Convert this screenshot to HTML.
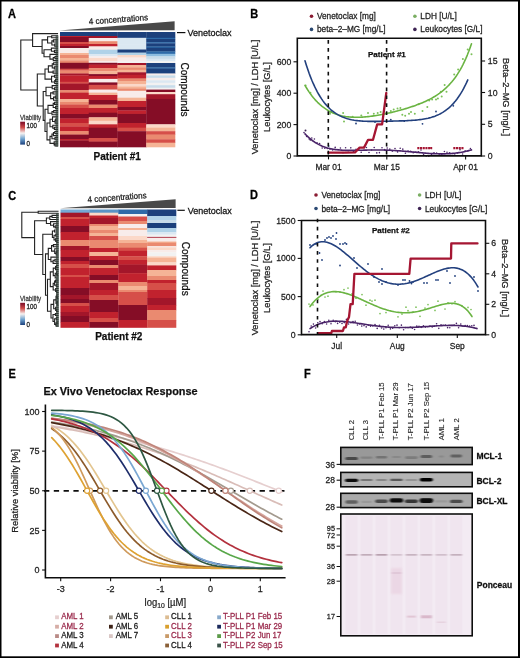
<!DOCTYPE html>
<html><head><meta charset="utf-8"><style>
html,body{margin:0;padding:0;background:#fff;}
svg{display:block;}
text{font-family:"Liberation Sans", sans-serif;}
</style></head><body>
<svg width="520" height="658" viewBox="0 0 520 658">
<defs>
<linearGradient id="cbar" x1="0" y1="0" x2="0" y2="1">
<stop offset="0" stop-color="#7a0a26"/>
<stop offset="0.25" stop-color="#cf4a48"/>
<stop offset="0.5" stop-color="#f7f2f0"/>
<stop offset="0.75" stop-color="#6fa3cf"/>
<stop offset="1" stop-color="#1c3f7c"/>
</linearGradient>
<filter id="soft" x="0" y="0" width="100%" height="100%"><feGaussianBlur stdDeviation="0.3"/></filter>
</defs>
<g filter="url(#soft)">
<rect x="0" y="0" width="520" height="658" fill="#000" />
<rect x="1.5" y="1.5" width="516.5" height="654.8" fill="#fff" />
<text x="0" y="0" font-size="11" text-anchor="start" font-weight="bold" fill="#000" stroke="#000" stroke-width="0.25" transform="translate(8 17.9) scale(1 1.08)" >A</text>
<text x="0" y="0" font-size="11" text-anchor="start" font-weight="bold" fill="#000" stroke="#000" stroke-width="0.25" transform="translate(250.3 17.5) scale(1 1.08)" >B</text>
<text x="0" y="0" font-size="11" text-anchor="start" font-weight="bold" fill="#000" stroke="#000" stroke-width="0.25" transform="translate(8.3 199.5) scale(1 1.08)" >C</text>
<text x="0" y="0" font-size="11" text-anchor="start" font-weight="bold" fill="#000" stroke="#000" stroke-width="0.25" transform="translate(250 199.1) scale(1 1.08)" >D</text>
<text x="0" y="0" font-size="11" text-anchor="start" font-weight="bold" fill="#000" stroke="#000" stroke-width="0.25" transform="translate(8.6 378.3) scale(1 1.08)" >E</text>
<text x="0" y="0" font-size="11" text-anchor="start" font-weight="bold" fill="#000" stroke="#000" stroke-width="0.25" transform="translate(304 377.7) scale(1 1.08)" >F</text>
<rect x="60" y="32" width="29.05" height="4.3" fill="#1b3f7c" />
<rect x="60" y="36" width="29.05" height="1.3" fill="#c1242f" />
<rect x="60" y="37" width="29.05" height="5.3" fill="#850c27" />
<rect x="60" y="42" width="29.05" height="2.3" fill="#d6504a" />
<rect x="60" y="44" width="29.05" height="2.3" fill="#c1242f" />
<rect x="60" y="46" width="29.05" height="2.3" fill="#850c27" />
<rect x="60" y="48" width="29.05" height="5.3" fill="#f8ecea" />
<rect x="60" y="53" width="29.05" height="2.3" fill="#f5b496" />
<rect x="60" y="55" width="29.05" height="3.3" fill="#ea8a6f" />
<rect x="60" y="58" width="29.05" height="2.7" fill="#f5b496" />
<rect x="60" y="60.4" width="29.05" height="2.7" fill="#ea8a6f" />
<rect x="60" y="62.8" width="29.05" height="6.2" fill="#850c27" />
<rect x="60" y="68.7" width="29.05" height="2.1" fill="#d6504a" />
<rect x="60" y="70.5" width="29.05" height="3.3" fill="#ea8a6f" />
<rect x="60" y="73.5" width="29.05" height="2.1" fill="#a3132a" />
<rect x="60" y="75.3" width="29.05" height="6.8" fill="#c1242f" />
<rect x="60" y="81.8" width="29.05" height="2.1" fill="#d6504a" />
<rect x="60" y="83.6" width="29.05" height="6.9" fill="#a3132a" />
<rect x="60" y="90.2" width="29.05" height="2.7" fill="#ea8a6f" />
<rect x="60" y="92.6" width="29.05" height="6.7" fill="#c1242f" />
<rect x="60" y="99" width="29.05" height="3.3" fill="#f5b496" />
<rect x="60" y="102" width="29.05" height="2.9" fill="#ea8a6f" />
<rect x="60" y="104.6" width="29.05" height="3.7" fill="#d6504a" />
<rect x="60" y="108" width="29.05" height="6.3" fill="#c1242f" />
<rect x="60" y="114" width="29.05" height="4.8" fill="#850c27" />
<rect x="60" y="118.5" width="29.05" height="4.8" fill="#c1242f" />
<rect x="60" y="123" width="29.05" height="3.8" fill="#d6504a" />
<rect x="60" y="126.5" width="29.05" height="4.8" fill="#c1242f" />
<rect x="60" y="131" width="29.05" height="3.9" fill="#ea8a6f" />
<rect x="60" y="134.6" width="29.05" height="4.7" fill="#850c27" />
<rect x="60" y="139" width="29.05" height="1.8" fill="#c1242f" />
<rect x="60" y="140.5" width="29.05" height="6.8" fill="#850c27" />
<rect x="88.75" y="32" width="29.05" height="4.3" fill="#1b3f7c" />
<rect x="88.75" y="36" width="29.05" height="2.3" fill="#a3132a" />
<rect x="88.75" y="38" width="29.05" height="3.5" fill="#f8ecea" />
<rect x="88.75" y="41.2" width="29.05" height="3.1" fill="#ea8a6f" />
<rect x="88.75" y="44" width="29.05" height="2.7" fill="#c1242f" />
<rect x="88.75" y="46.4" width="29.05" height="3.6" fill="#f8ecea" />
<rect x="88.75" y="49.7" width="29.05" height="4.6" fill="#b0d2e8" />
<rect x="88.75" y="54" width="29.05" height="2.6" fill="#dbe8f2" />
<rect x="88.75" y="56.3" width="29.05" height="2" fill="#f8ecea" />
<rect x="88.75" y="58" width="29.05" height="3.3" fill="#fbd8c8" />
<rect x="88.75" y="61" width="29.05" height="2.1" fill="#f8ecea" />
<rect x="88.75" y="62.8" width="29.05" height="2.1" fill="#850c27" />
<rect x="88.75" y="64.6" width="29.05" height="3.8" fill="#c1242f" />
<rect x="88.75" y="68.1" width="29.05" height="3.3" fill="#ea8a6f" />
<rect x="88.75" y="71.1" width="29.05" height="3.3" fill="#f5b496" />
<rect x="88.75" y="74.1" width="29.05" height="2.1" fill="#850c27" />
<rect x="88.75" y="75.9" width="29.05" height="3.3" fill="#c1242f" />
<rect x="88.75" y="78.9" width="29.05" height="3.8" fill="#f8ecea" />
<rect x="88.75" y="82.4" width="29.05" height="2.7" fill="#850c27" />
<rect x="88.75" y="84.8" width="29.05" height="5.1" fill="#d6504a" />
<rect x="88.75" y="89.6" width="29.05" height="3.3" fill="#f8ecea" />
<rect x="88.75" y="92.6" width="29.05" height="2.7" fill="#f5b496" />
<rect x="88.75" y="95" width="29.05" height="5.3" fill="#c1242f" />
<rect x="88.75" y="100" width="29.05" height="4.9" fill="#850c27" />
<rect x="88.75" y="104.6" width="29.05" height="3.7" fill="#ea8a6f" />
<rect x="88.75" y="108" width="29.05" height="5" fill="#c1242f" />
<rect x="88.75" y="112.7" width="29.05" height="4.9" fill="#850c27" />
<rect x="88.75" y="117.3" width="29.05" height="3.8" fill="#f5b496" />
<rect x="88.75" y="120.8" width="29.05" height="3.8" fill="#fbd8c8" />
<rect x="88.75" y="124.3" width="29.05" height="3.7" fill="#c1242f" />
<rect x="88.75" y="127.7" width="29.05" height="10.6" fill="#850c27" />
<rect x="88.75" y="138" width="29.05" height="3.9" fill="#d6504a" />
<rect x="88.75" y="141.6" width="29.05" height="5.7" fill="#850c27" />
<rect x="117.5" y="32" width="29.05" height="6.1" fill="#1b3f7c" />
<rect x="117.5" y="37.8" width="29.05" height="7.1" fill="#dbe8f2" />
<rect x="117.5" y="44.6" width="29.05" height="5.2" fill="#dbe8f2" />
<rect x="117.5" y="49.5" width="29.05" height="3.4" fill="#1b3f7c" />
<rect x="117.5" y="52.6" width="29.05" height="2.7" fill="#b0d2e8" />
<rect x="117.5" y="55" width="29.05" height="2.8" fill="#fbd8c8" />
<rect x="117.5" y="57.5" width="29.05" height="4" fill="#f8ecea" />
<rect x="117.5" y="61.2" width="29.05" height="2.1" fill="#f2f2f2" />
<rect x="117.5" y="63" width="29.05" height="2.3" fill="#a3132a" />
<rect x="117.5" y="65" width="29.05" height="2.7" fill="#f5b496" />
<rect x="117.5" y="67.4" width="29.05" height="2.7" fill="#ea8a6f" />
<rect x="117.5" y="69.8" width="29.05" height="2.8" fill="#f5b496" />
<rect x="117.5" y="72.3" width="29.05" height="2.8" fill="#a3132a" />
<rect x="117.5" y="74.8" width="29.05" height="4" fill="#c1242f" />
<rect x="117.5" y="78.5" width="29.05" height="2.8" fill="#ea8a6f" />
<rect x="117.5" y="81" width="29.05" height="3.3" fill="#f5b496" />
<rect x="117.5" y="84" width="29.05" height="2.8" fill="#fbd8c8" />
<rect x="117.5" y="86.5" width="29.05" height="2.3" fill="#f5b496" />
<rect x="117.5" y="88.5" width="29.05" height="2.6" fill="#ea8a6f" />
<rect x="117.5" y="90.8" width="29.05" height="7.2" fill="#f8ecea" />
<rect x="117.5" y="97.7" width="29.05" height="3.6" fill="#f5b496" />
<rect x="117.5" y="101" width="29.05" height="6.3" fill="#c1242f" />
<rect x="117.5" y="107" width="29.05" height="3.7" fill="#850c27" />
<rect x="117.5" y="110.4" width="29.05" height="3.8" fill="#c1242f" />
<rect x="117.5" y="113.9" width="29.05" height="9.4" fill="#850c27" />
<rect x="117.5" y="123" width="29.05" height="5" fill="#c1242f" />
<rect x="117.5" y="127.7" width="29.05" height="3.8" fill="#d6504a" />
<rect x="117.5" y="131.2" width="29.05" height="16.1" fill="#850c27" />
<rect x="146.25" y="32" width="29.05" height="6.1" fill="#1b3f7c" />
<rect x="146.25" y="37.8" width="29.05" height="1.5" fill="#2f6aa8" />
<rect x="146.25" y="39" width="29.05" height="3.5" fill="#1b3f7c" />
<rect x="146.25" y="42.2" width="29.05" height="1.5" fill="#2f6aa8" />
<rect x="146.25" y="43.4" width="29.05" height="3.4" fill="#1b3f7c" />
<rect x="146.25" y="46.5" width="29.05" height="1.5" fill="#2f6aa8" />
<rect x="146.25" y="47.7" width="29.05" height="4" fill="#1b3f7c" />
<rect x="146.25" y="51.4" width="29.05" height="2.7" fill="#2f6aa8" />
<rect x="146.25" y="53.8" width="29.05" height="2.8" fill="#8dbde0" />
<rect x="146.25" y="56.3" width="29.05" height="2.8" fill="#c8dcea" />
<rect x="146.25" y="58.8" width="29.05" height="2.7" fill="#dbe8f2" />
<rect x="146.25" y="61.2" width="29.05" height="2.1" fill="#f2f2f2" />
<rect x="146.25" y="63" width="29.05" height="4.7" fill="#1b3f7c" />
<rect x="146.25" y="67.4" width="29.05" height="1.5" fill="#2f6aa8" />
<rect x="146.25" y="68.6" width="29.05" height="5.2" fill="#1b3f7c" />
<rect x="146.25" y="73.5" width="29.05" height="2.2" fill="#f8ecea" />
<rect x="146.25" y="75.4" width="29.05" height="2.7" fill="#c8dcea" />
<rect x="146.25" y="77.8" width="29.05" height="2.8" fill="#f8ecea" />
<rect x="146.25" y="80.3" width="29.05" height="2.8" fill="#dbe8f2" />
<rect x="146.25" y="82.8" width="29.05" height="2.7" fill="#f2f2f2" />
<rect x="146.25" y="85.2" width="29.05" height="2.8" fill="#c8dcea" />
<rect x="146.25" y="87.7" width="29.05" height="2.2" fill="#f2f2f2" />
<rect x="146.25" y="89.6" width="29.05" height="2.7" fill="#850c27" />
<rect x="146.25" y="92" width="29.05" height="2.5" fill="#fbd8c8" />
<rect x="146.25" y="94.2" width="29.05" height="5" fill="#a3132a" />
<rect x="146.25" y="98.9" width="29.05" height="25.7" fill="#850c27" />
<rect x="146.25" y="124.3" width="29.05" height="3.7" fill="#fbd8c8" />
<rect x="146.25" y="127.7" width="29.05" height="3.8" fill="#f5b496" />
<rect x="146.25" y="131.2" width="29.05" height="3.7" fill="#d6504a" />
<rect x="146.25" y="134.6" width="29.05" height="5" fill="#ea8a6f" />
<rect x="146.25" y="139.3" width="29.05" height="3.7" fill="#d6504a" />
<rect x="146.25" y="142.7" width="29.05" height="4.6" fill="#f5b496" />
<rect x="60.5" y="209.5" width="29.2" height="3.5" fill="#74a9d6" />
<rect x="60.5" y="212.7" width="29.2" height="4.6" fill="#a3132a" />
<rect x="60.5" y="217" width="29.2" height="2.3" fill="#d6504a" />
<rect x="60.5" y="219" width="29.2" height="7.3" fill="#c1242f" />
<rect x="60.5" y="226" width="29.2" height="6.3" fill="#850c27" />
<rect x="60.5" y="232" width="29.2" height="8.3" fill="#c1242f" />
<rect x="60.5" y="240" width="29.2" height="6.3" fill="#ea8a6f" />
<rect x="60.5" y="246" width="29.2" height="4.3" fill="#a3132a" />
<rect x="60.5" y="250" width="29.2" height="7.3" fill="#c1242f" />
<rect x="60.5" y="257" width="29.2" height="4.3" fill="#850c27" />
<rect x="60.5" y="261" width="29.2" height="3.3" fill="#c1242f" />
<rect x="60.5" y="264" width="29.2" height="4.3" fill="#d6504a" />
<rect x="60.5" y="268" width="29.2" height="7.3" fill="#c1242f" />
<rect x="60.5" y="275" width="29.2" height="2.3" fill="#d6504a" />
<rect x="60.5" y="277" width="29.2" height="11.3" fill="#c1242f" />
<rect x="60.5" y="288" width="29.2" height="7.3" fill="#850c27" />
<rect x="60.5" y="295" width="29.2" height="4.3" fill="#a3132a" />
<rect x="60.5" y="299" width="29.2" height="4.3" fill="#850c27" />
<rect x="60.5" y="303" width="29.2" height="3.3" fill="#d6504a" />
<rect x="60.5" y="306" width="29.2" height="6.3" fill="#c1242f" />
<rect x="60.5" y="312" width="29.2" height="4.3" fill="#a3132a" />
<rect x="60.5" y="316" width="29.2" height="6.3" fill="#850c27" />
<rect x="60.5" y="322" width="29.2" height="5.8" fill="#c1242f" />
<rect x="89.4" y="209.5" width="29.2" height="3.5" fill="#5a93c6" />
<rect x="89.4" y="212.7" width="29.2" height="3.1" fill="#fbd8c8" />
<rect x="89.4" y="215.5" width="29.2" height="2.8" fill="#c1242f" />
<rect x="89.4" y="218" width="29.2" height="6.3" fill="#a3132a" />
<rect x="89.4" y="224" width="29.2" height="2.3" fill="#ea8a6f" />
<rect x="89.4" y="226" width="29.2" height="4.3" fill="#f5b496" />
<rect x="89.4" y="230" width="29.2" height="3.3" fill="#ea8a6f" />
<rect x="89.4" y="233" width="29.2" height="3.3" fill="#f5b496" />
<rect x="89.4" y="236" width="29.2" height="4.3" fill="#d6504a" />
<rect x="89.4" y="240" width="29.2" height="8.3" fill="#ea8a6f" />
<rect x="89.4" y="248" width="29.2" height="4.3" fill="#c1242f" />
<rect x="89.4" y="252" width="29.2" height="4.3" fill="#f5b496" />
<rect x="89.4" y="256" width="29.2" height="4.3" fill="#c1242f" />
<rect x="89.4" y="260" width="29.2" height="5.3" fill="#850c27" />
<rect x="89.4" y="265" width="29.2" height="3.3" fill="#ea8a6f" />
<rect x="89.4" y="268" width="29.2" height="7.3" fill="#c1242f" />
<rect x="89.4" y="275" width="29.2" height="5.3" fill="#850c27" />
<rect x="89.4" y="280" width="29.2" height="3.3" fill="#ea8a6f" />
<rect x="89.4" y="283" width="29.2" height="7.3" fill="#a3132a" />
<rect x="89.4" y="290" width="29.2" height="5.3" fill="#c1242f" />
<rect x="89.4" y="295" width="29.2" height="5.3" fill="#d6504a" />
<rect x="89.4" y="300" width="29.2" height="12.3" fill="#850c27" />
<rect x="89.4" y="312" width="29.2" height="6.3" fill="#c1242f" />
<rect x="89.4" y="318" width="29.2" height="4.3" fill="#d6504a" />
<rect x="89.4" y="322" width="29.2" height="5.8" fill="#850c27" />
<rect x="118.3" y="209.5" width="29.2" height="4.8" fill="#2f6aa8" />
<rect x="118.3" y="214" width="29.2" height="2.8" fill="#f2f2f2" />
<rect x="118.3" y="216.5" width="29.2" height="4.8" fill="#d6504a" />
<rect x="118.3" y="221" width="29.2" height="3.3" fill="#ea8a6f" />
<rect x="118.3" y="224" width="29.2" height="4.3" fill="#f8ecea" />
<rect x="118.3" y="228" width="29.2" height="2.3" fill="#f5b496" />
<rect x="118.3" y="230" width="29.2" height="6.3" fill="#f8ecea" />
<rect x="118.3" y="236" width="29.2" height="4.3" fill="#fbd8c8" />
<rect x="118.3" y="240" width="29.2" height="3.3" fill="#f5b496" />
<rect x="118.3" y="243" width="29.2" height="5" fill="#ea8a6f" />
<rect x="118.3" y="247.7" width="29.2" height="3.4" fill="#d6504a" />
<rect x="118.3" y="250.8" width="29.2" height="5.7" fill="#c1242f" />
<rect x="118.3" y="256.2" width="29.2" height="4.1" fill="#d6504a" />
<rect x="118.3" y="260" width="29.2" height="4.9" fill="#c1242f" />
<rect x="118.3" y="264.6" width="29.2" height="8.8" fill="#a3132a" />
<rect x="118.3" y="273.1" width="29.2" height="9.2" fill="#c1242f" />
<rect x="118.3" y="282" width="29.2" height="4.3" fill="#ea8a6f" />
<rect x="118.3" y="286" width="29.2" height="4.3" fill="#f5b496" />
<rect x="118.3" y="290" width="29.2" height="2.3" fill="#ea8a6f" />
<rect x="118.3" y="292" width="29.2" height="6.3" fill="#d6504a" />
<rect x="118.3" y="298" width="29.2" height="7.3" fill="#d6504a" />
<rect x="118.3" y="305" width="29.2" height="15.3" fill="#850c27" />
<rect x="118.3" y="320" width="29.2" height="7.8" fill="#c1242f" />
<rect x="147.2" y="209.5" width="29.1" height="6.8" fill="#1b3f7c" />
<rect x="147.2" y="216" width="29.1" height="4.3" fill="#b0d2e8" />
<rect x="147.2" y="220" width="29.1" height="3.3" fill="#c8dcea" />
<rect x="147.2" y="223" width="29.1" height="5.3" fill="#1b3f7c" />
<rect x="147.2" y="228" width="29.1" height="4.3" fill="#b0d2e8" />
<rect x="147.2" y="232" width="29.1" height="2.9" fill="#dbe8f2" />
<rect x="147.2" y="234.6" width="29.1" height="2.6" fill="#f2f2f2" />
<rect x="147.2" y="236.9" width="29.1" height="1.1" fill="#a3132a" />
<rect x="147.2" y="237.7" width="29.1" height="4.1" fill="#f8ecea" />
<rect x="147.2" y="241.5" width="29.1" height="1.5" fill="#f5b496" />
<rect x="147.2" y="242.7" width="29.1" height="3.8" fill="#ea8a6f" />
<rect x="147.2" y="246.2" width="29.1" height="1.4" fill="#f8ecea" />
<rect x="147.2" y="247.3" width="29.1" height="3" fill="#fbd8c8" />
<rect x="147.2" y="250" width="29.1" height="2.6" fill="#f8ecea" />
<rect x="147.2" y="252.3" width="29.1" height="4.2" fill="#f2f2f2" />
<rect x="147.2" y="256.2" width="29.1" height="1.8" fill="#fbd8c8" />
<rect x="147.2" y="257.7" width="29.1" height="4.9" fill="#f5b496" />
<rect x="147.2" y="262.3" width="29.1" height="3.4" fill="#fbd8c8" />
<rect x="147.2" y="265.4" width="29.1" height="4.9" fill="#c1242f" />
<rect x="147.2" y="270" width="29.1" height="6.3" fill="#f5b496" />
<rect x="147.2" y="276" width="29.1" height="4.3" fill="#ea8a6f" />
<rect x="147.2" y="280" width="29.1" height="3.3" fill="#c1242f" />
<rect x="147.2" y="283" width="29.1" height="7.3" fill="#d6504a" />
<rect x="147.2" y="290" width="29.1" height="8.3" fill="#c1242f" />
<rect x="147.2" y="298" width="29.1" height="7.3" fill="#a3132a" />
<rect x="147.2" y="305" width="29.1" height="5.3" fill="#c1242f" />
<rect x="147.2" y="310" width="29.1" height="10.3" fill="#ea8a6f" />
<rect x="147.2" y="320" width="29.1" height="7.8" fill="#d6504a" />
<path d="M59,30.6 L174.6,21.2 L174.6,30.2 Z" fill="#4a4a4a"/>
<path d="M60,208.3 L175.6,199.2 L175.6,208 Z" fill="#4a4a4a"/>
<text x="0" y="0" font-size="8.1" text-anchor="middle" font-weight="normal" fill="#222" stroke="#222" stroke-width="0.25" transform="translate(118.6 22.3) rotate(-4.3) scale(1 1.06)" >4 concentrations</text>
<text x="0" y="0" font-size="8.1" text-anchor="middle" font-weight="normal" fill="#222" stroke="#222" stroke-width="0.25" transform="translate(117.3 200.3) rotate(-4.3) scale(1 1.06)" >4 concentrations</text>
<line x1="177" y1="32.6" x2="185.4" y2="32.6" stroke="#111" stroke-width="1.2" />
<text x="0" y="0" font-size="9" text-anchor="start" font-weight="normal" fill="#111" stroke="#111" stroke-width="0.25" transform="translate(187.4 35.8) scale(1 1.06)" >Venetoclax</text>
<line x1="177.4" y1="210.3" x2="184.8" y2="210.3" stroke="#111" stroke-width="1.2" />
<text x="0" y="0" font-size="9" text-anchor="start" font-weight="normal" fill="#111" stroke="#111" stroke-width="0.25" transform="translate(187.7 213.5) scale(1 1.06)" >Venetoclax</text>
<text x="0" y="0" font-size="10" text-anchor="middle" font-weight="normal" fill="#111" stroke="#111" stroke-width="0.25" transform="translate(181.2 89.5) rotate(90) scale(1 1.06)" >Compounds</text>
<text x="0" y="0" font-size="10" text-anchor="middle" font-weight="normal" fill="#111" stroke="#111" stroke-width="0.25" transform="translate(181.8 268.7) rotate(90) scale(1 1.06)" >Compounds</text>
<text x="0" y="0" font-size="10" text-anchor="middle" font-weight="bold" fill="#111" stroke="#111" stroke-width="0.25" transform="translate(117.2 159.5)" >Patient #1</text>
<text x="0" y="0" font-size="10" text-anchor="middle" font-weight="bold" fill="#111" stroke="#111" stroke-width="0.25" transform="translate(118.8 340.2)" >Patient #2</text>
<rect x="20.2" y="121.7" width="4.8" height="22.9" fill="url(#cbar)" />
<text x="0" y="0" font-size="6.2" text-anchor="start" font-weight="normal" fill="#444" stroke="#444" stroke-width="0.25" transform="translate(20 120) scale(1 1.06)" >Viability</text>
<text x="0" y="0" font-size="6.2" text-anchor="start" font-weight="normal" fill="#222" stroke="#222" stroke-width="0.25" transform="translate(26.6 128.3) scale(1 1.06)" >100</text>
<text x="0" y="0" font-size="6.2" text-anchor="start" font-weight="normal" fill="#222" stroke="#222" stroke-width="0.25" transform="translate(26.6 146.1) scale(1 1.06)" >0</text>
<rect x="20.2" y="302.8" width="4.8" height="22.2" fill="url(#cbar)" />
<text x="0" y="0" font-size="6.2" text-anchor="start" font-weight="normal" fill="#444" stroke="#444" stroke-width="0.25" transform="translate(20 301.2) scale(1 1.06)" >Viability</text>
<text x="0" y="0" font-size="6.2" text-anchor="start" font-weight="normal" fill="#222" stroke="#222" stroke-width="0.25" transform="translate(26.6 309.4) scale(1 1.06)" >100</text>
<text x="0" y="0" font-size="6.2" text-anchor="start" font-weight="normal" fill="#222" stroke="#222" stroke-width="0.25" transform="translate(26.6 326.5) scale(1 1.06)" >0</text>
<path d="M51.69,35.68 L51.69,37.76 M51.69,35.68 L57.50,35.68 M51.69,37.76 L57.50,37.76 M53.39,39.84 L53.39,41.93 M53.39,39.84 L57.50,39.84 M53.39,41.93 L57.50,41.93 M54.69,44.01 L54.69,46.09 M54.69,44.01 L57.50,44.01 M54.69,46.09 L57.50,46.09 M51.87,40.89 L51.87,45.05 M51.87,40.89 L53.39,40.89 M51.87,45.05 L54.69,45.05 M47.60,36.72 L47.60,42.97 M47.60,36.72 L51.69,36.72 M47.60,42.97 L51.87,42.97 M54.46,50.25 L54.46,52.33 M54.46,50.25 L57.50,50.25 M54.46,52.33 L57.50,52.33 M51.41,48.17 L51.41,51.29 M51.41,48.17 L57.50,48.17 M51.41,51.29 L54.46,51.29 M55.00,56.50 L55.00,58.58 M55.00,56.50 L57.50,56.50 M55.00,58.58 L57.50,58.58 M53.28,57.54 L53.28,60.66 M53.28,57.54 L55.00,57.54 M53.28,60.66 L57.50,60.66 M49.96,54.41 L49.96,59.10 M49.96,54.41 L57.50,54.41 M49.96,59.10 L53.28,59.10 M44.00,49.73 L44.00,56.76 M44.00,49.73 L51.41,49.73 M44.00,56.76 L49.96,56.76 M42.10,39.84 L42.10,53.24 M42.10,39.84 L47.60,39.84 M42.10,53.24 L44.00,53.24 M32.60,33.60 L32.60,46.54 M32.60,33.60 L57.50,33.60 M32.60,46.54 L42.10,46.54 M53.63,62.74 L53.63,64.82 M53.63,62.74 L57.50,62.74 M53.63,64.82 L57.50,64.82 M54.32,66.90 L54.32,68.99 M54.32,66.90 L57.50,66.90 M54.32,68.99 L57.50,68.99 M52.27,63.78 L52.27,67.94 M52.27,63.78 L53.63,63.78 M52.27,67.94 L54.32,67.94 M53.06,71.07 L53.06,73.15 M53.06,71.07 L57.50,71.07 M53.06,73.15 L57.50,73.15 M48.37,65.86 L48.37,72.11 M48.37,65.86 L52.27,65.86 M48.37,72.11 L53.06,72.11 M54.48,75.23 L54.48,77.31 M54.48,75.23 L57.50,75.23 M54.48,77.31 L57.50,77.31 M55.50,79.39 L55.50,81.47 M55.50,79.39 L57.50,79.39 M55.50,81.47 L57.50,81.47 M54.72,80.43 L54.72,83.56 M54.72,80.43 L55.50,80.43 M54.72,83.56 L57.50,83.56 M51.58,76.27 L51.58,81.99 M51.58,76.27 L54.48,76.27 M51.58,81.99 L54.72,81.99 M45.00,68.99 L45.00,79.13 M45.00,68.99 L48.37,68.99 M45.00,79.13 L51.58,79.13 M54.52,87.72 L54.52,89.80 M54.52,87.72 L57.50,87.72 M54.52,89.80 L57.50,89.80 M52.21,85.64 L52.21,88.76 M52.21,85.64 L57.50,85.64 M52.21,88.76 L54.52,88.76 M53.07,91.88 L53.07,93.96 M53.07,91.88 L57.50,91.88 M53.07,93.96 L57.50,93.96 M55.34,96.04 L55.34,98.13 M55.34,96.04 L57.50,96.04 M55.34,98.13 L57.50,98.13 M53.55,97.09 L53.55,100.21 M53.55,97.09 L55.34,97.09 M53.55,100.21 L57.50,100.21 M50.62,92.92 L50.62,98.65 M50.62,92.92 L53.07,92.92 M50.62,98.65 L53.55,98.65 M46.00,87.20 L46.00,95.78 M46.00,87.20 L52.21,87.20 M46.00,95.78 L50.62,95.78 M54.48,102.29 L54.48,104.37 M54.48,102.29 L57.50,102.29 M54.48,104.37 L57.50,104.37 M55.52,106.45 L55.52,108.53 M55.52,106.45 L57.50,106.45 M55.52,108.53 L57.50,108.53 M53.20,103.33 L53.20,107.49 M53.20,103.33 L54.48,103.33 M53.20,107.49 L55.52,107.49 M53.72,110.61 L53.72,112.70 M53.72,110.61 L57.50,110.61 M53.72,112.70 L57.50,112.70 M52.00,111.66 L52.00,114.78 M52.00,111.66 L53.72,111.66 M52.00,114.78 L57.50,114.78 M48.00,105.41 L48.00,113.22 M48.00,105.41 L53.20,105.41 M48.00,113.22 L52.00,113.22 M55.72,118.94 L55.72,121.02 M55.72,118.94 L57.50,118.94 M55.72,121.02 L57.50,121.02 M55.04,119.98 L55.04,123.10 M55.04,119.98 L55.72,119.98 M55.04,123.10 L57.50,123.10 M52.52,116.86 L52.52,121.54 M52.52,116.86 L57.50,116.86 M52.52,121.54 L55.04,121.54 M54.39,127.27 L54.39,129.35 M54.39,127.27 L57.50,127.27 M54.39,129.35 L57.50,129.35 M52.80,125.19 L52.80,128.31 M52.80,125.19 L57.50,125.19 M52.80,128.31 L54.39,128.31 M50.00,119.20 L50.00,126.75 M50.00,119.20 L52.52,119.20 M50.00,126.75 L52.80,126.75 M54.85,131.43 L54.85,133.51 M54.85,131.43 L57.50,131.43 M54.85,133.51 L57.50,133.51 M53.43,132.47 L53.43,135.59 M53.43,132.47 L54.85,132.47 M53.43,135.59 L57.50,135.59 M54.98,137.67 L54.98,139.76 M54.98,137.67 L57.50,137.67 M54.98,139.76 L57.50,139.76 M51.97,134.03 L51.97,138.71 M51.97,134.03 L53.43,134.03 M51.97,138.71 L54.98,138.71 M55.04,143.92 L55.04,146.00 M55.04,143.92 L57.50,143.92 M55.04,146.00 L57.50,146.00 M54.12,141.84 L54.12,144.96 M54.12,141.84 L57.50,141.84 M54.12,144.96 L55.04,144.96 M50.00,136.37 L50.00,143.40 M50.00,136.37 L51.97,136.37 M50.00,143.40 L54.12,143.40 M47.00,122.97 L47.00,139.89 M47.00,122.97 L50.00,122.97 M47.00,139.89 L50.00,139.89 M45.00,109.31 L45.00,131.43 M45.00,109.31 L48.00,109.31 M45.00,131.43 L47.00,131.43 M43.20,91.49 L43.20,120.37 M43.20,91.49 L46.00,91.49 M43.20,120.37 L45.00,120.37 M37.30,74.06 L37.30,105.93 M37.30,74.06 L45.00,74.06 M37.30,105.93 L43.20,105.93 M20.80,40.07 L20.80,90.00 M20.80,40.07 L32.60,40.07 M20.80,90.00 L37.30,90.00" stroke="#222" stroke-width="1.1" fill="none" stroke-linecap="square"/>
<path d="M38.20,211.20 L38.20,213.29 M38.20,211.20 L58.00,211.20 M38.20,213.29 L58.00,213.29 M52.05,215.37 L52.05,217.46 M52.05,215.37 L58.00,215.37 M52.05,217.46 L58.00,217.46 M49.82,216.42 L49.82,219.55 M49.82,216.42 L52.05,216.42 M49.82,219.55 L58.00,219.55 M55.25,225.81 L55.25,227.90 M55.25,225.81 L58.00,225.81 M55.25,227.90 L58.00,227.90 M53.56,223.72 L53.56,226.85 M53.56,223.72 L58.00,223.72 M53.56,226.85 L55.25,226.85 M50.57,221.64 L50.57,225.29 M50.57,221.64 L58.00,221.64 M50.57,225.29 L53.56,225.29 M46.40,217.98 L46.40,223.46 M46.40,217.98 L49.82,217.98 M46.40,223.46 L50.57,223.46 M54.51,229.99 L54.51,232.07 M54.51,229.99 L58.00,229.99 M54.51,232.07 L58.00,232.07 M55.76,234.16 L55.76,236.25 M55.76,234.16 L58.00,234.16 M55.76,236.25 L58.00,236.25 M56.95,240.42 L56.95,242.51 M56.95,240.42 L58.00,240.42 M56.95,242.51 L58.00,242.51 M55.70,238.33 L55.70,241.47 M55.70,238.33 L58.00,238.33 M55.70,241.47 L56.95,241.47 M54.01,235.20 L54.01,239.90 M54.01,235.20 L55.76,235.20 M54.01,239.90 L55.70,239.90 M52.40,231.03 L52.40,237.55 M52.40,231.03 L54.51,231.03 M52.40,237.55 L54.01,237.55 M53.40,244.60 L53.40,246.68 M53.40,244.60 L58.00,244.60 M53.40,246.68 L58.00,246.68 M56.81,250.86 L56.81,252.95 M56.81,250.86 L58.00,250.86 M56.81,252.95 L58.00,252.95 M56.13,251.90 L56.13,255.03 M56.13,251.90 L56.81,251.90 M56.13,255.03 L58.00,255.03 M54.75,248.77 L54.75,253.47 M54.75,248.77 L58.00,248.77 M54.75,253.47 L56.13,253.47 M51.57,245.64 L51.57,251.12 M51.57,245.64 L53.40,245.64 M51.57,251.12 L54.75,251.12 M54.97,259.21 L54.97,261.29 M54.97,259.21 L58.00,259.21 M54.97,261.29 L58.00,261.29 M53.12,260.25 L53.12,263.38 M53.12,260.25 L54.97,260.25 M53.12,263.38 L58.00,263.38 M50.91,257.12 L50.91,261.82 M50.91,257.12 L58.00,257.12 M50.91,261.82 L53.12,261.82 M48.30,248.38 L48.30,259.47 M48.30,248.38 L51.57,248.38 M48.30,259.47 L50.91,259.47 M56.36,265.47 L56.36,267.56 M56.36,265.47 L58.00,265.47 M56.36,267.56 L58.00,267.56 M55.58,266.51 L55.58,269.64 M55.58,266.51 L56.36,266.51 M55.58,269.64 L58.00,269.64 M57.32,273.82 L57.32,275.91 M57.32,273.82 L58.00,273.82 M57.32,275.91 L58.00,275.91 M56.51,271.73 L56.51,274.86 M56.51,271.73 L58.00,271.73 M56.51,274.86 L57.32,274.86 M55.20,273.30 L55.20,277.99 M55.20,273.30 L56.51,273.30 M55.20,277.99 L58.00,277.99 M53.27,268.08 L53.27,275.64 M53.27,268.08 L55.58,268.08 M53.27,275.64 L55.20,275.64 M55.50,280.08 L55.50,282.17 M55.50,280.08 L58.00,280.08 M55.50,282.17 L58.00,282.17 M56.24,284.25 L56.24,286.34 M56.24,284.25 L58.00,284.25 M56.24,286.34 L58.00,286.34 M54.61,281.12 L54.61,285.30 M54.61,281.12 L55.50,281.12 M54.61,285.30 L56.24,285.30 M56.73,290.52 L56.73,292.60 M56.73,290.52 L58.00,290.52 M56.73,292.60 L58.00,292.60 M55.66,288.43 L55.66,291.56 M55.66,288.43 L58.00,288.43 M55.66,291.56 L56.73,291.56 M53.19,283.21 L53.19,289.99 M53.19,283.21 L54.61,283.21 M53.19,289.99 L55.66,289.99 M50.30,271.86 L50.30,286.60 M50.30,271.86 L53.27,271.86 M50.30,286.60 L53.19,286.60 M57.40,296.78 L57.40,298.87 M57.40,296.78 L58.00,296.78 M57.40,298.87 L58.00,298.87 M56.90,294.69 L56.90,297.82 M56.90,294.69 L58.00,294.69 M56.90,297.82 L57.40,297.82 M57.40,300.95 L57.40,303.04 M57.40,300.95 L58.00,300.95 M57.40,303.04 L58.00,303.04 M57.09,302.00 L57.09,305.13 M57.09,302.00 L57.40,302.00 M57.09,305.13 L58.00,305.13 M56.00,296.26 L56.00,303.56 M56.00,296.26 L56.90,296.26 M56.00,303.56 L57.09,303.56 M56.56,309.30 L56.56,311.39 M56.56,309.30 L58.00,309.30 M56.56,311.39 L58.00,311.39 M55.64,307.21 L55.64,310.35 M55.64,307.21 L58.00,307.21 M55.64,310.35 L56.56,310.35 M53.71,299.91 L53.71,308.78 M53.71,299.91 L56.00,299.91 M53.71,308.78 L55.64,308.78 M55.40,313.48 L55.40,315.56 M55.40,313.48 L58.00,313.48 M55.40,315.56 L58.00,315.56 M56.35,317.65 L56.35,319.74 M56.35,317.65 L58.00,317.65 M56.35,319.74 L58.00,319.74 M56.99,321.83 L56.99,323.91 M56.99,321.83 L58.00,321.83 M56.99,323.91 L58.00,323.91 M55.92,322.87 L55.92,326.00 M55.92,322.87 L56.99,322.87 M55.92,326.00 L58.00,326.00 M54.62,318.69 L54.62,324.43 M54.62,318.69 L56.35,318.69 M54.62,324.43 L55.92,324.43 M53.00,314.52 L53.00,321.56 M53.00,314.52 L55.40,314.52 M53.00,321.56 L54.62,321.56 M51.00,304.34 L51.00,318.04 M51.00,304.34 L53.71,304.34 M51.00,318.04 L53.00,318.04 M47.50,279.23 L47.50,311.19 M47.50,279.23 L50.30,279.23 M47.50,311.19 L51.00,311.19 M45.50,253.92 L45.50,295.21 M45.50,253.92 L48.30,253.92 M45.50,295.21 L47.50,295.21 M42.80,234.29 L42.80,274.57 M42.80,234.29 L52.40,234.29 M42.80,274.57 L45.50,274.57 M34.60,220.72 L34.60,254.43 M34.60,220.72 L46.40,220.72 M34.60,254.43 L42.80,254.43 M21.80,212.24 L21.80,237.58 M21.80,212.24 L38.20,212.24 M21.80,237.58 L34.60,237.58" stroke="#222" stroke-width="1.1" fill="none" stroke-linecap="square"/>
<rect x="55.6" y="35.5" width="2.8" height="111" fill="#33403a" opacity="0.75"/>
<rect x="56" y="213" width="2.8" height="114" fill="#33403a" opacity="0.75"/>
<circle cx="311.50" cy="16.20" r="1.8" fill="#8a1a32"/>
<text x="0" y="0" font-size="8.3" text-anchor="start" font-weight="normal" fill="#222" stroke="#222" stroke-width="0.25" transform="translate(316.9 19.2) scale(1 1.06)" >Venetoclax [mg]</text>
<circle cx="311.50" cy="29.40" r="1.8" fill="#2b4a72"/>
<text x="0" y="0" font-size="8.3" text-anchor="start" font-weight="normal" fill="#222" stroke="#222" stroke-width="0.25" transform="translate(316.9 32.4) scale(1 1.06)" >beta–2–MG [mg/L]</text>
<circle cx="414.90" cy="16.20" r="1.8" fill="#7aae62"/>
<text x="0" y="0" font-size="8.3" text-anchor="start" font-weight="normal" fill="#222" stroke="#222" stroke-width="0.25" transform="translate(420.3 19.2) scale(1 1.06)" >LDH [U/L]</text>
<circle cx="414.90" cy="29.40" r="1.8" fill="#3c2452"/>
<text x="0" y="0" font-size="8.3" text-anchor="start" font-weight="normal" fill="#222" stroke="#222" stroke-width="0.25" transform="translate(420.3 32.4) scale(1 1.06)" >Leukocytes [G/L]</text>
<circle cx="305.60" cy="85.40" r="1" fill="#7cc05a"/>
<circle cx="310.40" cy="92.70" r="1" fill="#7cc05a"/>
<circle cx="329.60" cy="111.90" r="1" fill="#7cc05a"/>
<circle cx="330.00" cy="113.80" r="1" fill="#7cc05a"/>
<circle cx="343.10" cy="112.90" r="1" fill="#7cc05a"/>
<circle cx="344.00" cy="121.50" r="1" fill="#7cc05a"/>
<circle cx="352.70" cy="116.70" r="1" fill="#7cc05a"/>
<circle cx="361.30" cy="115.40" r="1" fill="#7cc05a"/>
<circle cx="368.00" cy="112.90" r="1" fill="#7cc05a"/>
<circle cx="373.80" cy="113.80" r="1" fill="#7cc05a"/>
<circle cx="377.70" cy="112.90" r="1" fill="#7cc05a"/>
<circle cx="380.60" cy="111.90" r="1" fill="#7cc05a"/>
<circle cx="386.30" cy="112.90" r="1" fill="#7cc05a"/>
<circle cx="390.80" cy="111.00" r="1" fill="#7cc05a"/>
<circle cx="393.70" cy="109.60" r="1" fill="#7cc05a"/>
<circle cx="397.50" cy="108.50" r="1" fill="#7cc05a"/>
<circle cx="400.40" cy="108.10" r="1" fill="#7cc05a"/>
<circle cx="402.30" cy="114.80" r="1" fill="#7cc05a"/>
<circle cx="405.20" cy="115.80" r="1" fill="#7cc05a"/>
<circle cx="409.00" cy="113.80" r="1" fill="#7cc05a"/>
<circle cx="411.00" cy="111.90" r="1" fill="#7cc05a"/>
<circle cx="414.80" cy="113.80" r="1" fill="#7cc05a"/>
<circle cx="418.70" cy="104.20" r="1" fill="#7cc05a"/>
<circle cx="422.50" cy="111.00" r="1" fill="#7cc05a"/>
<circle cx="427.30" cy="107.10" r="1" fill="#7cc05a"/>
<circle cx="429.20" cy="100.40" r="1" fill="#7cc05a"/>
<circle cx="432.10" cy="99.40" r="1" fill="#7cc05a"/>
<circle cx="436.00" cy="99.40" r="1" fill="#7cc05a"/>
<circle cx="437.90" cy="98.50" r="1" fill="#7cc05a"/>
<circle cx="440.80" cy="91.70" r="1" fill="#7cc05a"/>
<circle cx="441.70" cy="96.50" r="1" fill="#7cc05a"/>
<circle cx="444.60" cy="85.00" r="1" fill="#7cc05a"/>
<circle cx="446.50" cy="91.70" r="1" fill="#7cc05a"/>
<circle cx="454.20" cy="74.40" r="1" fill="#7cc05a"/>
<circle cx="458.10" cy="69.60" r="1" fill="#7cc05a"/>
<circle cx="462.90" cy="59.00" r="1" fill="#7cc05a"/>
<circle cx="467.70" cy="49.40" r="1" fill="#7cc05a"/>
<circle cx="471.50" cy="54.20" r="1" fill="#7cc05a"/>
<circle cx="304.00" cy="132.61" r="0.8" fill="#4a2468"/>
<circle cx="306.60" cy="136.47" r="0.8" fill="#4a2468"/>
<circle cx="309.20" cy="138.95" r="0.8" fill="#4a2468"/>
<circle cx="311.80" cy="137.94" r="0.8" fill="#4a2468"/>
<circle cx="314.40" cy="139.01" r="0.8" fill="#4a2468"/>
<circle cx="317.00" cy="142.80" r="0.8" fill="#4a2468"/>
<circle cx="319.60" cy="143.57" r="0.8" fill="#4a2468"/>
<circle cx="322.20" cy="147.96" r="0.8" fill="#4a2468"/>
<circle cx="324.80" cy="148.23" r="0.8" fill="#4a2468"/>
<circle cx="327.40" cy="148.51" r="0.8" fill="#4a2468"/>
<circle cx="330.00" cy="148.92" r="0.8" fill="#4a2468"/>
<circle cx="332.60" cy="150.07" r="0.8" fill="#4a2468"/>
<circle cx="335.20" cy="147.39" r="0.8" fill="#4a2468"/>
<circle cx="337.80" cy="149.48" r="0.8" fill="#4a2468"/>
<circle cx="340.40" cy="148.05" r="0.8" fill="#4a2468"/>
<circle cx="343.00" cy="152.67" r="0.8" fill="#4a2468"/>
<circle cx="345.60" cy="147.69" r="0.8" fill="#4a2468"/>
<circle cx="348.20" cy="152.30" r="0.8" fill="#4a2468"/>
<circle cx="350.80" cy="147.84" r="0.8" fill="#4a2468"/>
<circle cx="353.40" cy="151.49" r="0.8" fill="#4a2468"/>
<circle cx="356.00" cy="149.35" r="0.8" fill="#4a2468"/>
<circle cx="358.60" cy="149.70" r="0.8" fill="#4a2468"/>
<circle cx="361.20" cy="152.26" r="0.8" fill="#4a2468"/>
<circle cx="363.80" cy="147.25" r="0.8" fill="#4a2468"/>
<circle cx="366.40" cy="147.45" r="0.8" fill="#4a2468"/>
<circle cx="369.00" cy="152.52" r="0.8" fill="#4a2468"/>
<circle cx="371.60" cy="150.04" r="0.8" fill="#4a2468"/>
<circle cx="374.20" cy="147.51" r="0.8" fill="#4a2468"/>
<circle cx="376.80" cy="152.88" r="0.8" fill="#4a2468"/>
<circle cx="379.40" cy="152.65" r="0.8" fill="#4a2468"/>
<circle cx="382.00" cy="147.69" r="0.8" fill="#4a2468"/>
<circle cx="384.60" cy="149.61" r="0.8" fill="#4a2468"/>
<circle cx="387.20" cy="147.97" r="0.8" fill="#4a2468"/>
<circle cx="389.80" cy="149.14" r="0.8" fill="#4a2468"/>
<circle cx="392.40" cy="151.12" r="0.8" fill="#4a2468"/>
<circle cx="395.00" cy="148.53" r="0.8" fill="#4a2468"/>
<circle cx="397.60" cy="151.90" r="0.8" fill="#4a2468"/>
<circle cx="400.20" cy="148.22" r="0.8" fill="#4a2468"/>
<circle cx="402.80" cy="149.14" r="0.8" fill="#4a2468"/>
<circle cx="405.40" cy="153.23" r="0.8" fill="#4a2468"/>
<circle cx="408.00" cy="150.97" r="0.8" fill="#4a2468"/>
<circle cx="410.60" cy="151.32" r="0.8" fill="#4a2468"/>
<circle cx="413.20" cy="152.63" r="0.8" fill="#4a2468"/>
<circle cx="415.80" cy="152.16" r="0.8" fill="#4a2468"/>
<circle cx="418.40" cy="151.84" r="0.8" fill="#4a2468"/>
<circle cx="421.00" cy="149.95" r="0.8" fill="#4a2468"/>
<circle cx="423.60" cy="154.35" r="0.8" fill="#4a2468"/>
<circle cx="426.20" cy="156.01" r="0.8" fill="#4a2468"/>
<circle cx="428.80" cy="156.25" r="0.8" fill="#4a2468"/>
<circle cx="431.40" cy="154.53" r="0.8" fill="#4a2468"/>
<circle cx="434.00" cy="152.82" r="0.8" fill="#4a2468"/>
<circle cx="436.60" cy="152.96" r="0.8" fill="#4a2468"/>
<circle cx="439.20" cy="154.99" r="0.8" fill="#4a2468"/>
<circle cx="441.80" cy="154.91" r="0.8" fill="#4a2468"/>
<circle cx="444.40" cy="151.53" r="0.8" fill="#4a2468"/>
<circle cx="447.00" cy="152.18" r="0.8" fill="#4a2468"/>
<circle cx="449.60" cy="152.82" r="0.8" fill="#4a2468"/>
<circle cx="452.20" cy="153.51" r="0.8" fill="#4a2468"/>
<circle cx="454.80" cy="155.05" r="0.8" fill="#4a2468"/>
<circle cx="457.40" cy="152.87" r="0.8" fill="#4a2468"/>
<circle cx="460.00" cy="149.65" r="0.8" fill="#4a2468"/>
<circle cx="462.60" cy="153.96" r="0.8" fill="#4a2468"/>
<circle cx="465.20" cy="151.07" r="0.8" fill="#4a2468"/>
<circle cx="467.80" cy="150.99" r="0.8" fill="#4a2468"/>
<circle cx="470.40" cy="148.51" r="0.8" fill="#4a2468"/>
<circle cx="305.50" cy="130.50" r="1" fill="#3c2452"/>
<circle cx="310.40" cy="139.80" r="1" fill="#3c2452"/>
<circle cx="328.60" cy="146.00" r="0.9" fill="#23407e"/>
<circle cx="390.80" cy="119.60" r="0.9" fill="#23407e"/>
<circle cx="404.20" cy="121.20" r="0.9" fill="#23407e"/>
<circle cx="422.50" cy="123.80" r="0.9" fill="#23407e"/>
<circle cx="436.00" cy="111.50" r="0.9" fill="#23407e"/>
<circle cx="453.30" cy="105.80" r="0.9" fill="#23407e"/>
<circle cx="331.00" cy="111.50" r="0.9" fill="#23407e"/>
<circle cx="356.00" cy="123.50" r="0.9" fill="#23407e"/>
<circle cx="375.00" cy="122.00" r="0.9" fill="#23407e"/>
<path d="M305.00,85.43 L306.40,87.80 L307.80,90.02 L309.20,92.12 L310.60,94.10 L312.00,95.95 L313.39,97.70 L314.79,99.34 L316.19,100.87 L317.59,102.31 L318.99,103.66 L320.39,104.92 L321.79,106.09 L323.19,107.18 L324.59,108.20 L325.99,109.15 L327.39,110.03 L328.79,110.84 L330.18,111.59 L331.58,112.28 L332.98,112.91 L334.38,113.49 L335.78,114.02 L337.18,114.50 L338.58,114.94 L339.98,115.33 L341.38,115.68 L342.78,115.99 L344.18,116.26 L345.58,116.50 L346.97,116.70 L348.37,116.87 L349.77,117.01 L351.17,117.12 L352.57,117.20 L353.97,117.25 L355.37,117.29 L356.77,117.29 L358.17,117.28 L359.57,117.24 L360.97,117.18 L362.37,117.11 L363.76,117.01 L365.16,116.90 L366.56,116.77 L367.96,116.63 L369.36,116.47 L370.76,116.30 L372.16,116.11 L373.56,115.91 L374.96,115.70 L376.36,115.48 L377.76,115.24 L379.16,115.00 L380.55,114.74 L381.95,114.48 L383.35,114.20 L384.75,113.92 L386.15,113.62 L387.55,113.32 L388.95,113.01 L390.35,112.69 L391.75,112.36 L393.15,112.02 L394.55,111.68 L395.95,111.33 L397.34,110.96 L398.74,110.59 L400.14,110.22 L401.54,109.83 L402.94,109.43 L404.34,109.03 L405.74,108.61 L407.14,108.19 L408.54,107.75 L409.94,107.30 L411.34,106.84 L412.74,106.37 L414.13,105.89 L415.53,105.39 L416.93,104.87 L418.33,104.34 L419.73,103.80 L421.13,103.23 L422.53,102.65 L423.93,102.04 L425.33,101.41 L426.73,100.76 L428.13,100.08 L429.53,99.37 L430.92,98.63 L432.32,97.86 L433.72,97.05 L435.12,96.21 L436.52,95.32 L437.92,94.39 L439.32,93.41 L440.72,92.38 L442.12,91.29 L443.52,90.15 L444.92,88.94 L446.32,87.66 L447.71,86.30 L449.11,84.86 L450.51,83.33 L451.91,81.71 L453.31,79.99 L454.71,78.16 L456.11,76.21 L457.51,74.13 L458.91,71.91 L460.31,69.55 L461.71,67.02 L463.11,64.33 L464.50,61.45 L465.90,58.36 L467.30,55.07 L468.70,51.54 L470.10,47.76 L471.50,43.71" stroke="#6bb443" stroke-width="1.6" fill="none" stroke-linejoin="round" stroke-linecap="round" />
<path d="M305.00,60.78 L306.37,65.19 L307.74,69.33 L309.10,73.22 L310.47,76.85 L311.84,80.26 L313.21,83.45 L314.58,86.44 L315.94,89.23 L317.31,91.83 L318.68,94.27 L320.05,96.53 L321.42,98.65 L322.78,100.61 L324.15,102.44 L325.52,104.14 L326.89,105.71 L328.26,107.17 L329.63,108.52 L330.99,109.77 L332.36,110.92 L333.73,111.98 L335.10,112.95 L336.47,113.85 L337.83,114.67 L339.20,115.42 L340.57,116.11 L341.94,116.73 L343.31,117.30 L344.67,117.82 L346.04,118.28 L347.41,118.70 L348.78,119.08 L350.15,119.41 L351.51,119.71 L352.88,119.98 L354.25,120.22 L355.62,120.42 L356.99,120.60 L358.35,120.76 L359.72,120.89 L361.09,121.01 L362.46,121.10 L363.83,121.18 L365.19,121.25 L366.56,121.30 L367.93,121.34 L369.30,121.36 L370.67,121.38 L372.04,121.39 L373.40,121.40 L374.77,121.40 L376.14,121.39 L377.51,121.38 L378.88,121.36 L380.24,121.34 L381.61,121.32 L382.98,121.30 L384.35,121.27 L385.72,121.24 L387.08,121.22 L388.45,121.19 L389.82,121.16 L391.19,121.13 L392.56,121.10 L393.92,121.06 L395.29,121.03 L396.66,121.00 L398.03,120.96 L399.40,120.92 L400.76,120.88 L402.13,120.84 L403.50,120.79 L404.87,120.74 L406.24,120.69 L407.61,120.63 L408.97,120.56 L410.34,120.48 L411.71,120.40 L413.08,120.30 L414.45,120.20 L415.81,120.08 L417.18,119.95 L418.55,119.80 L419.92,119.64 L421.29,119.46 L422.65,119.26 L424.02,119.03 L425.39,118.78 L426.76,118.50 L428.13,118.20 L429.49,117.86 L430.86,117.49 L432.23,117.08 L433.60,116.63 L434.97,116.14 L436.33,115.60 L437.70,115.01 L439.07,114.37 L440.44,113.68 L441.81,112.92 L443.17,112.10 L444.54,111.20 L445.91,110.24 L447.28,109.19 L448.65,108.06 L450.02,106.85 L451.38,105.53 L452.75,104.12 L454.12,102.60 L455.49,100.96 L456.86,99.21 L458.22,97.33 L459.59,95.31 L460.96,93.16 L462.33,90.85 L463.70,88.38 L465.06,85.74 L466.43,82.92 L467.80,79.92" stroke="#23407e" stroke-width="1.6" fill="none" stroke-linejoin="round" stroke-linecap="round" />
<path d="M305.00,133.86 L306.40,135.32 L307.80,136.68 L309.20,137.95 L310.60,139.14 L312.00,140.24 L313.39,141.26 L314.79,142.21 L316.19,143.08 L317.59,143.89 L318.99,144.63 L320.39,145.31 L321.79,145.93 L323.19,146.49 L324.59,147.01 L325.99,147.47 L327.39,147.90 L328.79,148.27 L330.18,148.61 L331.58,148.91 L332.98,149.17 L334.38,149.40 L335.78,149.60 L337.18,149.77 L338.58,149.92 L339.98,150.04 L341.38,150.14 L342.78,150.23 L344.18,150.29 L345.58,150.34 L346.97,150.37 L348.37,150.39 L349.77,150.39 L351.17,150.39 L352.57,150.38 L353.97,150.37 L355.37,150.34 L356.77,150.31 L358.17,150.28 L359.57,150.25 L360.97,150.21 L362.37,150.18 L363.76,150.14 L365.16,150.11 L366.56,150.08 L367.96,150.05 L369.36,150.02 L370.76,150.00 L372.16,149.98 L373.56,149.97 L374.96,149.96 L376.36,149.96 L377.76,149.96 L379.16,149.97 L380.55,149.99 L381.95,150.01 L383.35,150.04 L384.75,150.08 L386.15,150.12 L387.55,150.17 L388.95,150.23 L390.35,150.29 L391.75,150.36 L393.15,150.43 L394.55,150.52 L395.95,150.61 L397.34,150.70 L398.74,150.80 L400.14,150.90 L401.54,151.01 L402.94,151.13 L404.34,151.25 L405.74,151.37 L407.14,151.49 L408.54,151.62 L409.94,151.75 L411.34,151.88 L412.74,152.01 L414.13,152.14 L415.53,152.27 L416.93,152.40 L418.33,152.53 L419.73,152.66 L421.13,152.78 L422.53,152.90 L423.93,153.02 L425.33,153.13 L426.73,153.24 L428.13,153.34 L429.53,153.44 L430.92,153.52 L432.32,153.60 L433.72,153.67 L435.12,153.73 L436.52,153.78 L437.92,153.82 L439.32,153.85 L440.72,153.87 L442.12,153.87 L443.52,153.86 L444.92,153.83 L446.32,153.79 L447.71,153.74 L449.11,153.66 L450.51,153.58 L451.91,153.47 L453.31,153.35 L454.71,153.20 L456.11,153.04 L457.51,152.86 L458.91,152.66 L460.31,152.43 L461.71,152.19 L463.11,151.93 L464.50,151.64 L465.90,151.33 L467.30,151.00 L468.70,150.64 L470.10,150.26 L471.50,149.86" stroke="#4a2468" stroke-width="1.6" fill="none" stroke-linejoin="round" stroke-linecap="round" />
<path d="M328.30,152.70 L345.00,152.70 L355.00,152.40 L359.60,147.60 L364.00,147.60 L368.10,139.80 L373.00,139.80 L377.20,124.40 L382.10,124.40 L386.30,92.80" stroke="#a51432" stroke-width="2.3" fill="none" stroke-linejoin="round" stroke-linecap="round" />
<line x1="417.3" y1="148.1" x2="432.2" y2="148.1" stroke="#a51432" stroke-width="2.2" stroke-dasharray="2.1,0.6"/>
<line x1="453.3" y1="148.1" x2="464" y2="148.1" stroke="#a51432" stroke-width="2.2" stroke-dasharray="2.1,0.6"/>
<circle cx="431" cy="148.1" r="1.0" fill="#a51432"/>
<line x1="328.3" y1="40.1" x2="328.3" y2="155.9" stroke="#111" stroke-width="1.6" stroke-dasharray="3.7,4.2"/>
<line x1="386.6" y1="40.1" x2="386.6" y2="155.9" stroke="#111" stroke-width="1.6" stroke-dasharray="3.7,4.2"/>
<path d="M297.3,38.3 L481.3,38.3 L481.3,155.9 L297.3,155.9 Z" fill="none" stroke="#111" stroke-width="1.6"/>
<line x1="293.5" y1="156" x2="297.3" y2="156" stroke="#111" stroke-width="1.1" />
<text x="0" y="0" font-size="8.7" text-anchor="end" font-weight="normal" fill="#222" stroke="#222" stroke-width="0.25" transform="translate(291.3 159) scale(1 1.06)" >0</text>
<line x1="293.5" y1="124.6" x2="297.3" y2="124.6" stroke="#111" stroke-width="1.1" />
<text x="0" y="0" font-size="8.7" text-anchor="end" font-weight="normal" fill="#222" stroke="#222" stroke-width="0.25" transform="translate(291.3 127.6) scale(1 1.06)" >200</text>
<line x1="293.5" y1="93.2" x2="297.3" y2="93.2" stroke="#111" stroke-width="1.1" />
<text x="0" y="0" font-size="8.7" text-anchor="end" font-weight="normal" fill="#222" stroke="#222" stroke-width="0.25" transform="translate(291.3 96.2) scale(1 1.06)" >400</text>
<line x1="293.5" y1="61.8" x2="297.3" y2="61.8" stroke="#111" stroke-width="1.1" />
<text x="0" y="0" font-size="8.7" text-anchor="end" font-weight="normal" fill="#222" stroke="#222" stroke-width="0.25" transform="translate(291.3 64.8) scale(1 1.06)" >600</text>
<line x1="481.3" y1="156" x2="485.1" y2="156" stroke="#111" stroke-width="1.1" />
<text x="0" y="0" font-size="8.7" text-anchor="start" font-weight="normal" fill="#222" stroke="#222" stroke-width="0.25" transform="translate(487.8 159) scale(1 1.06)" >0</text>
<line x1="481.3" y1="124.3" x2="485.1" y2="124.3" stroke="#111" stroke-width="1.1" />
<text x="0" y="0" font-size="8.7" text-anchor="start" font-weight="normal" fill="#222" stroke="#222" stroke-width="0.25" transform="translate(487.8 127.3) scale(1 1.06)" >5</text>
<line x1="481.3" y1="92.5" x2="485.1" y2="92.5" stroke="#111" stroke-width="1.1" />
<text x="0" y="0" font-size="8.7" text-anchor="start" font-weight="normal" fill="#222" stroke="#222" stroke-width="0.25" transform="translate(487.8 95.5) scale(1 1.06)" >10</text>
<line x1="481.3" y1="61" x2="485.1" y2="61" stroke="#111" stroke-width="1.1" />
<text x="0" y="0" font-size="8.7" text-anchor="start" font-weight="normal" fill="#222" stroke="#222" stroke-width="0.25" transform="translate(487.8 64) scale(1 1.06)" >15</text>
<line x1="328.5" y1="155.9" x2="328.5" y2="159.4" stroke="#111" stroke-width="1.1" />
<text x="0" y="0" font-size="8.4" text-anchor="middle" font-weight="normal" fill="#222" stroke="#222" stroke-width="0.25" transform="translate(328.5 170) scale(1 1.06)" >Mar 01</text>
<line x1="386.8" y1="155.9" x2="386.8" y2="159.4" stroke="#111" stroke-width="1.1" />
<text x="0" y="0" font-size="8.4" text-anchor="middle" font-weight="normal" fill="#222" stroke="#222" stroke-width="0.25" transform="translate(386.8 170) scale(1 1.06)" >Mar 15</text>
<line x1="465.6" y1="155.9" x2="465.6" y2="159.4" stroke="#111" stroke-width="1.1" />
<text x="0" y="0" font-size="8.4" text-anchor="middle" font-weight="normal" fill="#222" stroke="#222" stroke-width="0.25" transform="translate(465.6 170) scale(1 1.06)" >Apr 01</text>
<text x="0" y="0" font-size="8" text-anchor="start" font-weight="bold" fill="#111" stroke="#111" stroke-width="0.25" transform="translate(368 56.6)" >Patient #1</text>
<text x="0" y="0" font-size="9.3" text-anchor="middle" font-weight="normal" fill="#222" stroke="#222" stroke-width="0.25" transform="translate(258.4 97) rotate(-90) scale(1 1.06)" >Venetoclax [mg] / LDH [U/L]</text>
<text x="0" y="0" font-size="9.3" text-anchor="middle" font-weight="normal" fill="#222" stroke="#222" stroke-width="0.25" transform="translate(270.4 97) rotate(-90) scale(1 1.06)" >Leukocytes [G/L]</text>
<text x="0" y="0" font-size="9.3" text-anchor="middle" font-weight="normal" fill="#222" stroke="#222" stroke-width="0.25" transform="translate(503.4 97) rotate(90) scale(1 1.06)" >Beta–2–MG [mg/L]</text>
<circle cx="316.00" cy="195.00" r="1.8" fill="#8a1a32"/>
<text x="0" y="0" font-size="8.3" text-anchor="start" font-weight="normal" fill="#222" stroke="#222" stroke-width="0.25" transform="translate(321.4 198) scale(1 1.06)" >Venetoclax [mg]</text>
<circle cx="316.00" cy="208.50" r="1.8" fill="#2b4a72"/>
<text x="0" y="0" font-size="8.3" text-anchor="start" font-weight="normal" fill="#222" stroke="#222" stroke-width="0.25" transform="translate(321.4 211.5) scale(1 1.06)" >beta–2–MG [mg/L]</text>
<circle cx="419.60" cy="195.00" r="1.8" fill="#7aae62"/>
<text x="0" y="0" font-size="8.3" text-anchor="start" font-weight="normal" fill="#222" stroke="#222" stroke-width="0.25" transform="translate(425 198) scale(1 1.06)" >LDH [U/L]</text>
<circle cx="419.60" cy="208.50" r="1.8" fill="#3c2452"/>
<text x="0" y="0" font-size="8.3" text-anchor="start" font-weight="normal" fill="#222" stroke="#222" stroke-width="0.25" transform="translate(425 211.5) scale(1 1.06)" >Leukocytes [G/L]</text>
<circle cx="310.00" cy="245.00" r="0.9" fill="#23407e"/>
<circle cx="316.00" cy="244.00" r="0.9" fill="#23407e"/>
<circle cx="319.50" cy="253.00" r="0.9" fill="#23407e"/>
<circle cx="322.00" cy="260.00" r="0.9" fill="#23407e"/>
<circle cx="325.00" cy="240.00" r="0.9" fill="#23407e"/>
<circle cx="327.00" cy="238.00" r="0.9" fill="#23407e"/>
<circle cx="329.00" cy="237.00" r="0.9" fill="#23407e"/>
<circle cx="331.00" cy="238.00" r="0.9" fill="#23407e"/>
<circle cx="333.00" cy="236.00" r="0.9" fill="#23407e"/>
<circle cx="336.00" cy="239.00" r="0.9" fill="#23407e"/>
<circle cx="336.50" cy="233.00" r="0.9" fill="#23407e"/>
<circle cx="340.00" cy="244.00" r="0.9" fill="#23407e"/>
<circle cx="343.00" cy="244.00" r="0.9" fill="#23407e"/>
<circle cx="345.00" cy="243.00" r="0.9" fill="#23407e"/>
<circle cx="346.50" cy="244.00" r="0.9" fill="#23407e"/>
<circle cx="340.00" cy="265.50" r="0.9" fill="#23407e"/>
<circle cx="354.00" cy="258.00" r="0.9" fill="#23407e"/>
<circle cx="357.00" cy="268.00" r="0.9" fill="#23407e"/>
<circle cx="368.00" cy="264.00" r="0.9" fill="#23407e"/>
<circle cx="374.00" cy="277.00" r="0.9" fill="#23407e"/>
<circle cx="379.00" cy="282.00" r="0.9" fill="#23407e"/>
<circle cx="382.00" cy="284.00" r="0.9" fill="#23407e"/>
<circle cx="386.00" cy="282.00" r="0.9" fill="#23407e"/>
<circle cx="382.00" cy="269.00" r="0.9" fill="#23407e"/>
<circle cx="398.00" cy="285.00" r="0.9" fill="#23407e"/>
<circle cx="403.00" cy="280.00" r="0.9" fill="#23407e"/>
<circle cx="405.00" cy="280.00" r="0.9" fill="#23407e"/>
<circle cx="409.50" cy="281.00" r="0.9" fill="#23407e"/>
<circle cx="411.50" cy="283.50" r="0.9" fill="#23407e"/>
<circle cx="413.00" cy="282.00" r="0.9" fill="#23407e"/>
<circle cx="424.00" cy="283.00" r="0.9" fill="#23407e"/>
<circle cx="427.00" cy="283.00" r="0.9" fill="#23407e"/>
<circle cx="436.00" cy="280.00" r="0.9" fill="#23407e"/>
<circle cx="438.00" cy="280.00" r="0.9" fill="#23407e"/>
<circle cx="447.00" cy="271.00" r="0.9" fill="#23407e"/>
<circle cx="450.00" cy="283.00" r="0.9" fill="#23407e"/>
<circle cx="455.00" cy="276.00" r="0.9" fill="#23407e"/>
<circle cx="474.00" cy="277.00" r="0.9" fill="#23407e"/>
<circle cx="478.00" cy="291.00" r="0.9" fill="#23407e"/>
<circle cx="309.00" cy="304.03" r="0.85" fill="#7cc05a"/>
<circle cx="313.00" cy="304.97" r="0.85" fill="#7cc05a"/>
<circle cx="318.00" cy="299.34" r="0.85" fill="#7cc05a"/>
<circle cx="321.00" cy="295.30" r="0.85" fill="#7cc05a"/>
<circle cx="323.00" cy="290.99" r="0.85" fill="#7cc05a"/>
<circle cx="325.00" cy="296.98" r="0.85" fill="#7cc05a"/>
<circle cx="328.00" cy="296.15" r="0.85" fill="#7cc05a"/>
<circle cx="336.00" cy="291.76" r="0.85" fill="#7cc05a"/>
<circle cx="340.00" cy="292.08" r="0.85" fill="#7cc05a"/>
<circle cx="344.00" cy="289.69" r="0.85" fill="#7cc05a"/>
<circle cx="348.00" cy="288.07" r="0.85" fill="#7cc05a"/>
<circle cx="352.00" cy="293.92" r="0.85" fill="#7cc05a"/>
<circle cx="356.00" cy="298.13" r="0.85" fill="#7cc05a"/>
<circle cx="362.00" cy="294.60" r="0.85" fill="#7cc05a"/>
<circle cx="366.00" cy="305.14" r="0.85" fill="#7cc05a"/>
<circle cx="370.00" cy="300.22" r="0.85" fill="#7cc05a"/>
<circle cx="372.00" cy="301.12" r="0.85" fill="#7cc05a"/>
<circle cx="375.00" cy="300.13" r="0.85" fill="#7cc05a"/>
<circle cx="380.00" cy="313.60" r="0.85" fill="#7cc05a"/>
<circle cx="386.00" cy="312.55" r="0.85" fill="#7cc05a"/>
<circle cx="398.00" cy="316.81" r="0.85" fill="#7cc05a"/>
<circle cx="402.00" cy="314.05" r="0.85" fill="#7cc05a"/>
<circle cx="406.00" cy="307.15" r="0.85" fill="#7cc05a"/>
<circle cx="408.00" cy="310.62" r="0.85" fill="#7cc05a"/>
<circle cx="413.00" cy="312.19" r="0.85" fill="#7cc05a"/>
<circle cx="416.00" cy="307.15" r="0.85" fill="#7cc05a"/>
<circle cx="420.00" cy="316.36" r="0.85" fill="#7cc05a"/>
<circle cx="425.00" cy="308.07" r="0.85" fill="#7cc05a"/>
<circle cx="428.00" cy="304.62" r="0.85" fill="#7cc05a"/>
<circle cx="435.00" cy="310.38" r="0.85" fill="#7cc05a"/>
<circle cx="438.00" cy="301.15" r="0.85" fill="#7cc05a"/>
<circle cx="445.00" cy="309.02" r="0.85" fill="#7cc05a"/>
<circle cx="448.00" cy="302.86" r="0.85" fill="#7cc05a"/>
<circle cx="452.00" cy="303.86" r="0.85" fill="#7cc05a"/>
<circle cx="455.00" cy="301.62" r="0.85" fill="#7cc05a"/>
<circle cx="462.00" cy="305.88" r="0.85" fill="#7cc05a"/>
<circle cx="468.00" cy="307.41" r="0.85" fill="#7cc05a"/>
<circle cx="471.00" cy="309.48" r="0.85" fill="#7cc05a"/>
<circle cx="309.00" cy="331.76" r="0.8" fill="#4a2468"/>
<circle cx="311.20" cy="326.01" r="0.8" fill="#4a2468"/>
<circle cx="313.40" cy="324.09" r="0.8" fill="#4a2468"/>
<circle cx="315.60" cy="328.03" r="0.8" fill="#4a2468"/>
<circle cx="317.80" cy="322.82" r="0.8" fill="#4a2468"/>
<circle cx="320.00" cy="321.67" r="0.8" fill="#4a2468"/>
<circle cx="322.20" cy="323.75" r="0.8" fill="#4a2468"/>
<circle cx="324.40" cy="321.60" r="0.8" fill="#4a2468"/>
<circle cx="326.60" cy="323.99" r="0.8" fill="#4a2468"/>
<circle cx="328.80" cy="320.23" r="0.8" fill="#4a2468"/>
<circle cx="331.00" cy="323.78" r="0.8" fill="#4a2468"/>
<circle cx="333.20" cy="320.30" r="0.8" fill="#4a2468"/>
<circle cx="335.40" cy="321.70" r="0.8" fill="#4a2468"/>
<circle cx="337.60" cy="323.42" r="0.8" fill="#4a2468"/>
<circle cx="339.80" cy="322.20" r="0.8" fill="#4a2468"/>
<circle cx="342.00" cy="323.56" r="0.8" fill="#4a2468"/>
<circle cx="344.20" cy="322.60" r="0.8" fill="#4a2468"/>
<circle cx="346.40" cy="319.38" r="0.8" fill="#4a2468"/>
<circle cx="348.60" cy="323.95" r="0.8" fill="#4a2468"/>
<circle cx="350.80" cy="322.71" r="0.8" fill="#4a2468"/>
<circle cx="353.00" cy="321.55" r="0.8" fill="#4a2468"/>
<circle cx="355.20" cy="321.23" r="0.8" fill="#4a2468"/>
<circle cx="357.40" cy="324.99" r="0.8" fill="#4a2468"/>
<circle cx="359.60" cy="323.94" r="0.8" fill="#4a2468"/>
<circle cx="361.80" cy="326.12" r="0.8" fill="#4a2468"/>
<circle cx="364.00" cy="325.60" r="0.8" fill="#4a2468"/>
<circle cx="366.20" cy="326.91" r="0.8" fill="#4a2468"/>
<circle cx="368.40" cy="325.19" r="0.8" fill="#4a2468"/>
<circle cx="370.60" cy="326.19" r="0.8" fill="#4a2468"/>
<circle cx="372.80" cy="326.05" r="0.8" fill="#4a2468"/>
<circle cx="375.00" cy="324.50" r="0.8" fill="#4a2468"/>
<circle cx="377.20" cy="328.40" r="0.8" fill="#4a2468"/>
<circle cx="379.40" cy="325.30" r="0.8" fill="#4a2468"/>
<circle cx="381.60" cy="327.98" r="0.8" fill="#4a2468"/>
<circle cx="383.80" cy="329.09" r="0.8" fill="#4a2468"/>
<circle cx="386.00" cy="327.70" r="0.8" fill="#4a2468"/>
<circle cx="388.20" cy="325.22" r="0.8" fill="#4a2468"/>
<circle cx="390.40" cy="328.92" r="0.8" fill="#4a2468"/>
<circle cx="392.60" cy="328.21" r="0.8" fill="#4a2468"/>
<circle cx="394.80" cy="325.80" r="0.8" fill="#4a2468"/>
<circle cx="397.00" cy="325.16" r="0.8" fill="#4a2468"/>
<circle cx="399.20" cy="327.71" r="0.8" fill="#4a2468"/>
<circle cx="401.40" cy="325.14" r="0.8" fill="#4a2468"/>
<circle cx="403.60" cy="329.78" r="0.8" fill="#4a2468"/>
<circle cx="405.80" cy="327.58" r="0.8" fill="#4a2468"/>
<circle cx="408.00" cy="327.60" r="0.8" fill="#4a2468"/>
<circle cx="410.20" cy="326.97" r="0.8" fill="#4a2468"/>
<circle cx="412.40" cy="328.20" r="0.8" fill="#4a2468"/>
<circle cx="414.60" cy="329.43" r="0.8" fill="#4a2468"/>
<circle cx="416.80" cy="326.16" r="0.8" fill="#4a2468"/>
<circle cx="419.00" cy="326.38" r="0.8" fill="#4a2468"/>
<circle cx="421.20" cy="327.33" r="0.8" fill="#4a2468"/>
<circle cx="423.40" cy="325.71" r="0.8" fill="#4a2468"/>
<circle cx="425.60" cy="327.11" r="0.8" fill="#4a2468"/>
<circle cx="427.80" cy="326.69" r="0.8" fill="#4a2468"/>
<circle cx="430.00" cy="325.97" r="0.8" fill="#4a2468"/>
<circle cx="432.20" cy="327.07" r="0.8" fill="#4a2468"/>
<circle cx="434.40" cy="326.17" r="0.8" fill="#4a2468"/>
<circle cx="436.60" cy="323.75" r="0.8" fill="#4a2468"/>
<circle cx="438.80" cy="328.35" r="0.8" fill="#4a2468"/>
<circle cx="441.00" cy="324.90" r="0.8" fill="#4a2468"/>
<circle cx="443.20" cy="325.20" r="0.8" fill="#4a2468"/>
<circle cx="445.40" cy="324.98" r="0.8" fill="#4a2468"/>
<circle cx="447.60" cy="327.66" r="0.8" fill="#4a2468"/>
<circle cx="449.80" cy="327.76" r="0.8" fill="#4a2468"/>
<circle cx="452.00" cy="325.47" r="0.8" fill="#4a2468"/>
<circle cx="454.20" cy="324.93" r="0.8" fill="#4a2468"/>
<circle cx="456.40" cy="323.42" r="0.8" fill="#4a2468"/>
<circle cx="458.60" cy="327.69" r="0.8" fill="#4a2468"/>
<circle cx="460.80" cy="324.08" r="0.8" fill="#4a2468"/>
<circle cx="463.00" cy="326.23" r="0.8" fill="#4a2468"/>
<circle cx="465.20" cy="325.46" r="0.8" fill="#4a2468"/>
<circle cx="467.40" cy="325.65" r="0.8" fill="#4a2468"/>
<circle cx="469.60" cy="326.17" r="0.8" fill="#4a2468"/>
<circle cx="471.80" cy="325.72" r="0.8" fill="#4a2468"/>
<circle cx="474.00" cy="325.40" r="0.8" fill="#4a2468"/>
<circle cx="476.20" cy="328.55" r="0.8" fill="#4a2468"/>
<path d="M310.00,306.59 L311.36,304.73 L312.72,303.02 L314.08,301.46 L315.45,300.04 L316.81,298.75 L318.17,297.59 L319.53,296.54 L320.89,295.62 L322.25,294.80 L323.61,294.09 L324.97,293.48 L326.34,292.96 L327.70,292.53 L329.06,292.19 L330.42,291.93 L331.78,291.75 L333.14,291.63 L334.50,291.59 L335.87,291.61 L337.23,291.69 L338.59,291.82 L339.95,292.01 L341.31,292.25 L342.67,292.54 L344.03,292.86 L345.39,293.23 L346.76,293.63 L348.12,294.07 L349.48,294.54 L350.84,295.03 L352.20,295.55 L353.56,296.09 L354.92,296.65 L356.29,297.23 L357.65,297.82 L359.01,298.42 L360.37,299.03 L361.73,299.65 L363.09,300.27 L364.45,300.90 L365.82,301.53 L367.18,302.15 L368.54,302.77 L369.90,303.39 L371.26,304.00 L372.62,304.60 L373.98,305.19 L375.34,305.77 L376.71,306.33 L378.07,306.88 L379.43,307.41 L380.79,307.92 L382.15,308.42 L383.51,308.89 L384.87,309.34 L386.24,309.76 L387.60,310.16 L388.96,310.54 L390.32,310.88 L391.68,311.20 L393.04,311.49 L394.40,311.76 L395.76,311.99 L397.13,312.19 L398.49,312.36 L399.85,312.50 L401.21,312.61 L402.57,312.69 L403.93,312.73 L405.29,312.74 L406.66,312.72 L408.02,312.67 L409.38,312.59 L410.74,312.48 L412.10,312.33 L413.46,312.16 L414.82,311.96 L416.18,311.72 L417.55,311.47 L418.91,311.18 L420.27,310.88 L421.63,310.55 L422.99,310.20 L424.35,309.83 L425.71,309.44 L427.08,309.04 L428.44,308.63 L429.80,308.21 L431.16,307.78 L432.52,307.35 L433.88,306.92 L435.24,306.49 L436.61,306.07 L437.97,305.66 L439.33,305.26 L440.69,304.89 L442.05,304.54 L443.41,304.21 L444.77,303.93 L446.13,303.68 L447.50,303.48 L448.86,303.34 L450.22,303.25 L451.58,303.23 L452.94,303.28 L454.30,303.41 L455.66,303.63 L457.03,303.94 L458.39,304.37 L459.75,304.90 L461.11,305.56 L462.47,306.35 L463.83,307.29 L465.19,308.38 L466.55,309.64 L467.92,311.07 L469.28,312.69 L470.64,314.51 L472.00,316.55" stroke="#6bb443" stroke-width="1.6" fill="none" stroke-linejoin="round" stroke-linecap="round" />
<path d="M310.00,247.80 L311.41,246.42 L312.82,245.23 L314.24,244.24 L315.65,243.42 L317.06,242.77 L318.47,242.28 L319.88,241.94 L321.29,241.75 L322.71,241.69 L324.12,241.76 L325.53,241.95 L326.94,242.26 L328.35,242.67 L329.76,243.17 L331.18,243.77 L332.59,244.45 L334.00,245.21 L335.41,246.04 L336.82,246.94 L338.24,247.89 L339.65,248.90 L341.06,249.95 L342.47,251.05 L343.88,252.17 L345.29,253.33 L346.71,254.52 L348.12,255.72 L349.53,256.94 L350.94,258.17 L352.35,259.41 L353.76,260.65 L355.18,261.89 L356.59,263.12 L358.00,264.34 L359.41,265.55 L360.82,266.74 L362.24,267.91 L363.65,269.06 L365.06,270.18 L366.47,271.27 L367.88,272.33 L369.29,273.35 L370.71,274.34 L372.12,275.29 L373.53,276.20 L374.94,277.07 L376.35,277.89 L377.76,278.66 L379.18,279.39 L380.59,280.07 L382.00,280.70 L383.41,281.28 L384.82,281.81 L386.24,282.29 L387.65,282.71 L389.06,283.08 L390.47,283.40 L391.88,283.66 L393.29,283.87 L394.71,284.03 L396.12,284.14 L397.53,284.20 L398.94,284.20 L400.35,284.15 L401.76,284.06 L403.18,283.92 L404.59,283.73 L406.00,283.49 L407.41,283.22 L408.82,282.90 L410.24,282.54 L411.65,282.14 L413.06,281.71 L414.47,281.24 L415.88,280.74 L417.29,280.21 L418.71,279.66 L420.12,279.08 L421.53,278.48 L422.94,277.87 L424.35,277.24 L425.76,276.60 L427.18,275.96 L428.59,275.31 L430.00,274.66 L431.41,274.01 L432.82,273.37 L434.24,272.74 L435.65,272.13 L437.06,271.54 L438.47,270.98 L439.88,270.44 L441.29,269.94 L442.71,269.48 L444.12,269.06 L445.53,268.69 L446.94,268.38 L448.35,268.12 L449.76,267.93 L451.18,267.81 L452.59,267.76 L454.00,267.80 L455.41,267.92 L456.82,268.14 L458.24,268.46 L459.65,268.88 L461.06,269.42 L462.47,270.07 L463.88,270.85 L465.29,271.76 L466.71,272.81 L468.12,274.00 L469.53,275.35 L470.94,276.85 L472.35,278.52 L473.76,280.36 L475.18,282.39 L476.59,284.60 L478.00,287.01" stroke="#23407e" stroke-width="1.6" fill="none" stroke-linejoin="round" stroke-linecap="round" />
<path d="M310.00,328.67 L311.40,327.75 L312.81,326.91 L314.21,326.13 L315.61,325.43 L317.02,324.79 L318.42,324.22 L319.82,323.70 L321.23,323.24 L322.63,322.84 L324.03,322.48 L325.44,322.18 L326.84,321.92 L328.24,321.70 L329.65,321.52 L331.05,321.38 L332.45,321.28 L333.86,321.21 L335.26,321.17 L336.66,321.16 L338.07,321.18 L339.47,321.22 L340.87,321.29 L342.28,321.37 L343.68,321.48 L345.08,321.60 L346.49,321.74 L347.89,321.89 L349.29,322.05 L350.70,322.23 L352.10,322.41 L353.50,322.60 L354.91,322.80 L356.31,323.01 L357.71,323.22 L359.12,323.43 L360.52,323.65 L361.92,323.86 L363.33,324.08 L364.73,324.29 L366.13,324.50 L367.54,324.71 L368.94,324.92 L370.34,325.12 L371.75,325.32 L373.15,325.51 L374.55,325.70 L375.96,325.87 L377.36,326.05 L378.76,326.21 L380.17,326.36 L381.57,326.51 L382.97,326.65 L384.38,326.78 L385.78,326.90 L387.18,327.01 L388.59,327.11 L389.99,327.20 L391.39,327.28 L392.80,327.35 L394.20,327.41 L395.61,327.46 L397.01,327.50 L398.41,327.54 L399.82,327.56 L401.22,327.57 L402.62,327.57 L404.03,327.57 L405.43,327.55 L406.83,327.53 L408.24,327.50 L409.64,327.46 L411.04,327.41 L412.45,327.36 L413.85,327.30 L415.25,327.24 L416.66,327.17 L418.06,327.09 L419.46,327.01 L420.87,326.92 L422.27,326.84 L423.67,326.74 L425.08,326.65 L426.48,326.56 L427.88,326.46 L429.29,326.36 L430.69,326.27 L432.09,326.17 L433.50,326.08 L434.90,325.99 L436.30,325.91 L437.71,325.82 L439.11,325.75 L440.51,325.68 L441.92,325.61 L443.32,325.55 L444.72,325.50 L446.13,325.46 L447.53,325.43 L448.93,325.41 L450.34,325.40 L451.74,325.41 L453.14,325.42 L454.55,325.45 L455.95,325.50 L457.35,325.56 L458.76,325.64 L460.16,325.74 L461.56,325.85 L462.97,325.99 L464.37,326.14 L465.77,326.32 L467.18,326.51 L468.58,326.73 L469.98,326.98 L471.39,327.24 L472.79,327.54 L474.19,327.86 L475.60,328.20 L477.00,328.58" stroke="#4a2468" stroke-width="1.6" fill="none" stroke-linejoin="round" stroke-linecap="round" />
<path d="M318.10,333.10 L331.30,333.10 L331.90,331.00 L342.90,331.00 L344.00,327.30 L345.80,327.30 L347.00,321.50 L349.00,317.00 L350.50,304.20 L352.70,304.20 L354.40,273.80 L409.30,273.80 L410.60,258.60 L451.00,258.60 L451.30,243.40 L477.50,243.40" stroke="#a51432" stroke-width="2.3" fill="none" stroke-linejoin="round" stroke-linecap="round" />
<line x1="317.5" y1="218.7" x2="317.5" y2="334.6" stroke="#111" stroke-width="1.6" stroke-dasharray="3.6,4.5"/>
<path d="M301.5,220.5 L485.5,220.5 L485.5,334.6 L301.5,334.6 Z" fill="none" stroke="#111" stroke-width="1.6"/>
<line x1="297.7" y1="334.8" x2="301.5" y2="334.8" stroke="#111" stroke-width="1.1" />
<text x="0" y="0" font-size="8.7" text-anchor="end" font-weight="normal" fill="#222" stroke="#222" stroke-width="0.25" transform="translate(295.5 337.8) scale(1 1.06)" >0</text>
<line x1="297.7" y1="296.6" x2="301.5" y2="296.6" stroke="#111" stroke-width="1.1" />
<text x="0" y="0" font-size="8.7" text-anchor="end" font-weight="normal" fill="#222" stroke="#222" stroke-width="0.25" transform="translate(295.5 299.6) scale(1 1.06)" >500</text>
<line x1="297.7" y1="258.4" x2="301.5" y2="258.4" stroke="#111" stroke-width="1.1" />
<text x="0" y="0" font-size="8.7" text-anchor="end" font-weight="normal" fill="#222" stroke="#222" stroke-width="0.25" transform="translate(295.5 261.4) scale(1 1.06)" >1000</text>
<line x1="297.7" y1="220.5" x2="301.5" y2="220.5" stroke="#111" stroke-width="1.1" />
<text x="0" y="0" font-size="8.7" text-anchor="end" font-weight="normal" fill="#222" stroke="#222" stroke-width="0.25" transform="translate(295.5 223.5) scale(1 1.06)" >1500</text>
<line x1="485.5" y1="334.8" x2="489.3" y2="334.8" stroke="#111" stroke-width="1.1" />
<text x="0" y="0" font-size="8.7" text-anchor="start" font-weight="normal" fill="#222" stroke="#222" stroke-width="0.25" transform="translate(491.3 337.8) scale(1 1.06)" >0</text>
<line x1="485.5" y1="304.3" x2="489.3" y2="304.3" stroke="#111" stroke-width="1.1" />
<text x="0" y="0" font-size="8.7" text-anchor="start" font-weight="normal" fill="#222" stroke="#222" stroke-width="0.25" transform="translate(491.3 307.3) scale(1 1.06)" >2</text>
<line x1="485.5" y1="273.8" x2="489.3" y2="273.8" stroke="#111" stroke-width="1.1" />
<text x="0" y="0" font-size="8.7" text-anchor="start" font-weight="normal" fill="#222" stroke="#222" stroke-width="0.25" transform="translate(491.3 276.8) scale(1 1.06)" >4</text>
<line x1="485.5" y1="243.3" x2="489.3" y2="243.3" stroke="#111" stroke-width="1.1" />
<text x="0" y="0" font-size="8.7" text-anchor="start" font-weight="normal" fill="#222" stroke="#222" stroke-width="0.25" transform="translate(491.3 246.3) scale(1 1.06)" >6</text>
<line x1="336.7" y1="334.6" x2="336.7" y2="338.1" stroke="#111" stroke-width="1.1" />
<text x="0" y="0" font-size="8.4" text-anchor="middle" font-weight="normal" fill="#222" stroke="#222" stroke-width="0.25" transform="translate(336.7 349.3) scale(1 1.06)" >Jul</text>
<line x1="397.3" y1="334.6" x2="397.3" y2="338.1" stroke="#111" stroke-width="1.1" />
<text x="0" y="0" font-size="8.4" text-anchor="middle" font-weight="normal" fill="#222" stroke="#222" stroke-width="0.25" transform="translate(397.3 349.3) scale(1 1.06)" >Aug</text>
<line x1="457.3" y1="334.6" x2="457.3" y2="338.1" stroke="#111" stroke-width="1.1" />
<text x="0" y="0" font-size="8.4" text-anchor="middle" font-weight="normal" fill="#222" stroke="#222" stroke-width="0.25" transform="translate(457.3 349.3) scale(1 1.06)" >Sep</text>
<text x="0" y="0" font-size="8" text-anchor="start" font-weight="bold" fill="#111" stroke="#111" stroke-width="0.25" transform="translate(372 233.2)" >Patient #2</text>
<text x="0" y="0" font-size="9.3" text-anchor="middle" font-weight="normal" fill="#222" stroke="#222" stroke-width="0.25" transform="translate(257.5 278) rotate(-90) scale(1 1.06)" >Venetoclax [mg] / LDH [U/L]</text>
<text x="0" y="0" font-size="9.3" text-anchor="middle" font-weight="normal" fill="#222" stroke="#222" stroke-width="0.25" transform="translate(269.6 278) rotate(-90) scale(1 1.06)" >Leukocytes [G/L]</text>
<text x="0" y="0" font-size="9.3" text-anchor="middle" font-weight="normal" fill="#222" stroke="#222" stroke-width="0.25" transform="translate(502.2 278) rotate(90) scale(1 1.06)" >Beta–2–MG [mg/L]</text>
<line x1="44" y1="490.85" x2="288.8" y2="490.85" stroke="#111" stroke-width="1.7" stroke-dasharray="5.3,4.5"/>
<path d="M51.72,425.32 L54.30,426.80 L56.89,428.42 L59.47,430.18 L62.06,432.11 L64.64,434.20 L67.23,436.47 L69.81,438.91 L72.40,441.54 L74.98,444.36 L77.57,447.36 L80.15,450.56 L82.73,453.94 L85.32,457.50 L87.90,461.23 L90.49,465.11 L93.07,469.14 L95.66,473.28 L98.24,477.53 L100.83,481.85 L103.41,486.22 L106.00,490.62 L108.58,495.01 L111.17,499.37 L113.75,503.67 L116.34,507.89 L118.92,512.00 L121.51,515.98 L124.09,519.82 L126.67,523.50 L129.26,527.01 L131.84,530.33 L134.43,533.47 L137.01,536.42 L139.60,539.18 L142.18,541.76 L144.77,544.15 L147.35,546.36 L149.94,548.40 L152.52,550.28 L155.11,552.00 L157.69,553.58 L160.28,555.01 L162.86,556.33 L165.45,557.52 L168.03,558.60 L170.61,559.58 L173.20,560.47 L175.78,561.28 L178.37,562.00 L180.95,562.66 L183.54,563.25 L186.12,563.78 L188.71,564.26 L191.29,564.69 L193.88,565.08 L196.46,565.42 L199.05,565.74 L201.63,566.02 L204.22,566.27 L206.80,566.49 L209.39,566.69 L211.97,566.87 L214.55,567.04 L217.14,567.18 L219.72,567.31 L222.31,567.43 L224.89,567.53 L227.48,567.62 L230.06,567.71 L232.65,567.78 L235.23,567.85 L237.82,567.91 L240.40,567.96 L242.99,568.01 L245.57,568.05 L248.16,568.09 L250.74,568.13 L253.33,568.16 L255.91,568.18 L258.49,568.21 L261.08,568.23 L263.66,568.25 L266.25,568.27 L268.83,568.28 L271.42,568.30 L274.00,568.31 L276.59,568.32 L279.17,568.33 L281.76,568.34" stroke="#e3c58f" stroke-width="1.7" fill="none" stroke-linejoin="round" stroke-linecap="round" />
<path d="M51.72,428.62 L54.30,430.43 L56.89,432.39 L59.47,434.53 L62.06,436.85 L64.64,439.35 L67.23,442.04 L69.81,444.93 L72.40,448.00 L74.98,451.27 L77.57,454.73 L80.15,458.37 L82.73,462.17 L85.32,466.14 L87.90,470.24 L90.49,474.46 L93.07,478.77 L95.66,483.16 L98.24,487.59 L100.83,492.03 L103.41,496.46 L106.00,500.85 L108.58,505.17 L111.17,509.40 L113.75,513.51 L116.34,517.48 L118.92,521.30 L121.51,524.95 L124.09,528.42 L126.67,531.70 L129.26,534.79 L131.84,537.68 L134.43,540.39 L137.01,542.90 L139.60,545.23 L142.18,547.38 L144.77,549.36 L147.35,551.18 L149.94,552.84 L152.52,554.36 L155.11,555.74 L157.69,557.00 L160.28,558.15 L162.86,559.18 L165.45,560.12 L168.03,560.96 L170.61,561.73 L173.20,562.42 L175.78,563.04 L178.37,563.60 L180.95,564.10 L183.54,564.55 L186.12,564.95 L188.71,565.32 L191.29,565.64 L193.88,565.94 L196.46,566.20 L199.05,566.43 L201.63,566.64 L204.22,566.83 L206.80,567.00 L209.39,567.15 L211.97,567.28 L214.55,567.40 L217.14,567.51 L219.72,567.61 L222.31,567.69 L224.89,567.77 L227.48,567.84 L230.06,567.90 L232.65,567.96 L235.23,568.01 L237.82,568.05 L240.40,568.09 L242.99,568.12 L245.57,568.15 L248.16,568.18 L250.74,568.21 L253.33,568.23 L255.91,568.25 L258.49,568.27 L261.08,568.28 L263.66,568.30 L266.25,568.31 L268.83,568.32 L271.42,568.33 L274.00,568.34 L276.59,568.35 L279.17,568.36 L281.76,568.36" stroke="#8d5b2c" stroke-width="1.7" fill="none" stroke-linejoin="round" stroke-linecap="round" />
<path d="M51.72,427.33 L54.30,429.58 L56.89,432.11 L59.47,434.93 L62.06,438.05 L64.64,441.51 L67.23,445.29 L69.81,449.41 L72.40,453.86 L74.98,458.63 L77.57,463.68 L80.15,469.00 L82.73,474.53 L85.32,480.23 L87.90,486.03 L90.49,491.87 L93.07,497.70 L95.66,503.44 L98.24,509.03 L100.83,514.42 L103.41,519.57 L106.00,524.44 L108.58,529.00 L111.17,533.24 L113.75,537.14 L116.34,540.71 L118.92,543.95 L121.51,546.87 L124.09,549.49 L126.67,551.84 L129.26,553.92 L131.84,555.77 L134.43,557.40 L137.01,558.83 L139.60,560.09 L142.18,561.19 L144.77,562.15 L147.35,562.99 L149.94,563.72 L152.52,564.35 L155.11,564.90 L157.69,565.38 L160.28,565.79 L162.86,566.15 L165.45,566.46 L168.03,566.73 L170.61,566.96 L173.20,567.16 L175.78,567.33 L178.37,567.48 L180.95,567.61 L183.54,567.72 L186.12,567.82 L188.71,567.90 L191.29,567.97 L193.88,568.03 L196.46,568.08 L199.05,568.13 L201.63,568.17 L204.22,568.20 L206.80,568.23 L209.39,568.26 L211.97,568.28 L214.55,568.30 L217.14,568.31 L219.72,568.33 L222.31,568.34 L224.89,568.35 L227.48,568.36 L230.06,568.37 L232.65,568.37 L235.23,568.38 L237.82,568.38 L240.40,568.39 L242.99,568.39 L245.57,568.40 L248.16,568.40 L250.74,568.40 L253.33,568.40 L255.91,568.40 L258.49,568.41 L261.08,568.41 L263.66,568.41 L266.25,568.41 L268.83,568.41 L271.42,568.41 L274.00,568.41 L276.59,568.41 L279.17,568.41 L281.76,568.41" stroke="#cf9a5c" stroke-width="1.7" fill="none" stroke-linejoin="round" stroke-linecap="round" />
<path d="M51.72,437.60 L54.30,440.30 L56.89,443.21 L59.47,446.34 L62.06,449.68 L64.64,453.23 L67.23,456.98 L69.81,460.93 L72.40,465.05 L74.98,469.33 L77.57,473.75 L80.15,478.28 L82.73,482.89 L85.32,487.55 L87.90,492.23 L90.49,496.89 L93.07,501.50 L95.66,506.04 L98.24,510.46 L100.83,514.75 L103.41,518.88 L106.00,522.83 L108.58,526.59 L111.17,530.14 L113.75,533.49 L116.34,536.62 L118.92,539.54 L121.51,542.24 L124.09,544.74 L126.67,547.04 L129.26,549.15 L131.84,551.07 L134.43,552.83 L137.01,554.43 L139.60,555.87 L142.18,557.18 L144.77,558.36 L147.35,559.43 L149.94,560.39 L152.52,561.25 L155.11,562.02 L157.69,562.71 L160.28,563.33 L162.86,563.89 L165.45,564.39 L168.03,564.83 L170.61,565.22 L173.20,565.58 L175.78,565.89 L178.37,566.17 L180.95,566.42 L183.54,566.64 L186.12,566.84 L188.71,567.01 L191.29,567.17 L193.88,567.31 L196.46,567.43 L199.05,567.54 L201.63,567.64 L204.22,567.73 L206.80,567.80 L209.39,567.87 L211.97,567.93 L214.55,567.99 L217.14,568.04 L219.72,568.08 L222.31,568.12 L224.89,568.15 L227.48,568.18 L230.06,568.21 L232.65,568.23 L235.23,568.25 L237.82,568.27 L240.40,568.28 L242.99,568.30 L245.57,568.31 L248.16,568.32 L250.74,568.33 L253.33,568.34 L255.91,568.35 L258.49,568.36 L261.08,568.36 L263.66,568.37 L266.25,568.38 L268.83,568.38 L271.42,568.38 L274.00,568.39 L276.59,568.39 L279.17,568.39 L281.76,568.40" stroke="#dea233" stroke-width="1.7" fill="none" stroke-linejoin="round" stroke-linecap="round" />
<path d="M51.72,425.88 L54.30,426.23 L56.89,426.58 L59.47,426.94 L62.06,427.31 L64.64,427.69 L67.23,428.07 L69.81,428.47 L72.40,428.87 L74.98,429.28 L77.57,429.70 L80.15,430.12 L82.73,430.56 L85.32,431.00 L87.90,431.46 L90.49,431.92 L93.07,432.39 L95.66,432.87 L98.24,433.36 L100.83,433.86 L103.41,434.37 L106.00,434.89 L108.58,435.42 L111.17,435.95 L113.75,436.50 L116.34,437.06 L118.92,437.63 L121.51,438.20 L124.09,438.79 L126.67,439.39 L129.26,440.00 L131.84,440.62 L134.43,441.25 L137.01,441.88 L139.60,442.53 L142.18,443.19 L144.77,443.86 L147.35,444.55 L149.94,445.24 L152.52,445.94 L155.11,446.65 L157.69,447.38 L160.28,448.11 L162.86,448.85 L165.45,449.61 L168.03,450.37 L170.61,451.15 L173.20,451.93 L175.78,452.73 L178.37,453.53 L180.95,454.35 L183.54,455.17 L186.12,456.01 L188.71,456.85 L191.29,457.71 L193.88,458.57 L196.46,459.44 L199.05,460.33 L201.63,461.22 L204.22,462.12 L206.80,463.02 L209.39,463.94 L211.97,464.87 L214.55,465.80 L217.14,466.74 L219.72,467.69 L222.31,468.64 L224.89,469.60 L227.48,470.57 L230.06,471.55 L232.65,472.53 L235.23,473.52 L237.82,474.51 L240.40,475.51 L242.99,476.51 L245.57,477.52 L248.16,478.54 L250.74,479.55 L253.33,480.57 L255.91,481.60 L258.49,482.63 L261.08,483.66 L263.66,484.69 L266.25,485.72 L268.83,486.76 L271.42,487.80 L274.00,488.84 L276.59,489.87 L279.17,490.91 L281.76,491.95" stroke="#e6cfcf" stroke-width="1.7" fill="none" stroke-linejoin="round" stroke-linecap="round" />
<path d="M51.72,426.51 L54.30,426.91 L56.89,427.33 L59.47,427.75 L62.06,428.18 L64.64,428.63 L67.23,429.08 L69.81,429.55 L72.40,430.03 L74.98,430.51 L77.57,431.01 L80.15,431.52 L82.73,432.04 L85.32,432.58 L87.90,433.12 L90.49,433.68 L93.07,434.24 L95.66,434.82 L98.24,435.42 L100.83,436.02 L103.41,436.64 L106.00,437.27 L108.58,437.91 L111.17,438.56 L113.75,439.23 L116.34,439.91 L118.92,440.61 L121.51,441.31 L124.09,442.03 L126.67,442.76 L129.26,443.51 L131.84,444.27 L134.43,445.04 L137.01,445.83 L139.60,446.63 L142.18,447.44 L144.77,448.26 L147.35,449.10 L149.94,449.95 L152.52,450.82 L155.11,451.70 L157.69,452.59 L160.28,453.49 L162.86,454.40 L165.45,455.33 L168.03,456.27 L170.61,457.22 L173.20,458.19 L175.78,459.17 L178.37,460.15 L180.95,461.15 L183.54,462.16 L186.12,463.18 L188.71,464.21 L191.29,465.26 L193.88,466.31 L196.46,467.37 L199.05,468.44 L201.63,469.52 L204.22,470.60 L206.80,471.70 L209.39,472.80 L211.97,473.92 L214.55,475.03 L217.14,476.16 L219.72,477.29 L222.31,478.43 L224.89,479.57 L227.48,480.71 L230.06,481.86 L232.65,483.02 L235.23,484.18 L237.82,485.34 L240.40,486.50 L242.99,487.66 L245.57,488.83 L248.16,490.00 L250.74,491.17 L253.33,492.33 L255.91,493.50 L258.49,494.66 L261.08,495.83 L263.66,496.99 L266.25,498.15 L268.83,499.30 L271.42,500.45 L274.00,501.60 L276.59,502.75 L279.17,503.88 L281.76,505.02" stroke="#d9bdb8" stroke-width="1.7" fill="none" stroke-linejoin="round" stroke-linecap="round" />
<path d="M51.72,422.01 L54.30,422.39 L56.89,422.78 L59.47,423.19 L62.06,423.61 L64.64,424.04 L67.23,424.49 L69.81,424.95 L72.40,425.43 L74.98,425.92 L77.57,426.43 L80.15,426.95 L82.73,427.49 L85.32,428.05 L87.90,428.62 L90.49,429.22 L93.07,429.83 L95.66,430.45 L98.24,431.10 L100.83,431.77 L103.41,432.45 L106.00,433.15 L108.58,433.88 L111.17,434.62 L113.75,435.38 L116.34,436.17 L118.92,436.97 L121.51,437.80 L124.09,438.65 L126.67,439.52 L129.26,440.41 L131.84,441.32 L134.43,442.26 L137.01,443.21 L139.60,444.19 L142.18,445.20 L144.77,446.22 L147.35,447.26 L149.94,448.33 L152.52,449.42 L155.11,450.53 L157.69,451.67 L160.28,452.82 L162.86,454.00 L165.45,455.20 L168.03,456.42 L170.61,457.65 L173.20,458.91 L175.78,460.19 L178.37,461.49 L180.95,462.80 L183.54,464.14 L186.12,465.49 L188.71,466.85 L191.29,468.24 L193.88,469.63 L196.46,471.05 L199.05,472.47 L201.63,473.91 L204.22,475.36 L206.80,476.82 L209.39,478.29 L211.97,479.77 L214.55,481.26 L217.14,482.75 L219.72,484.25 L222.31,485.75 L224.89,487.26 L227.48,488.77 L230.06,490.28 L232.65,491.80 L235.23,493.31 L237.82,494.82 L240.40,496.32 L242.99,497.83 L245.57,499.32 L248.16,500.82 L250.74,502.30 L253.33,503.78 L255.91,505.24 L258.49,506.70 L261.08,508.14 L263.66,509.58 L266.25,511.00 L268.83,512.40 L271.42,513.80 L274.00,515.17 L276.59,516.53 L279.17,517.88 L281.76,519.20" stroke="#a39a8e" stroke-width="1.7" fill="none" stroke-linejoin="round" stroke-linecap="round" />
<path d="M51.72,419.09 L54.30,419.42 L56.89,419.76 L59.47,420.12 L62.06,420.48 L64.64,420.87 L67.23,421.27 L69.81,421.68 L72.40,422.11 L74.98,422.56 L77.57,423.03 L80.15,423.51 L82.73,424.01 L85.32,424.53 L87.90,425.07 L90.49,425.63 L93.07,426.21 L95.66,426.82 L98.24,427.44 L100.83,428.09 L103.41,428.76 L106.00,429.45 L108.58,430.17 L111.17,430.92 L113.75,431.69 L116.34,432.48 L118.92,433.30 L121.51,434.15 L124.09,435.02 L126.67,435.93 L129.26,436.86 L131.84,437.82 L134.43,438.80 L137.01,439.82 L139.60,440.87 L142.18,441.95 L144.77,443.05 L147.35,444.19 L149.94,445.35 L152.52,446.55 L155.11,447.78 L157.69,449.03 L160.28,450.32 L162.86,451.63 L165.45,452.98 L168.03,454.35 L170.61,455.75 L173.20,457.18 L175.78,458.64 L178.37,460.12 L180.95,461.63 L183.54,463.16 L186.12,464.72 L188.71,466.30 L191.29,467.90 L193.88,469.52 L196.46,471.16 L199.05,472.82 L201.63,474.50 L204.22,476.19 L206.80,477.89 L209.39,479.61 L211.97,481.34 L214.55,483.08 L217.14,484.82 L219.72,486.57 L222.31,488.33 L224.89,490.09 L227.48,491.84 L230.06,493.60 L232.65,495.36 L235.23,497.11 L237.82,498.85 L240.40,500.58 L242.99,502.31 L245.57,504.02 L248.16,505.73 L250.74,507.41 L253.33,509.09 L255.91,510.74 L258.49,512.38 L261.08,514.00 L263.66,515.59 L266.25,517.17 L268.83,518.72 L271.42,520.24 L274.00,521.75 L276.59,523.22 L279.17,524.67 L281.76,526.09" stroke="#d6a79f" stroke-width="1.7" fill="none" stroke-linejoin="round" stroke-linecap="round" />
<path d="M51.72,418.17 L54.30,418.47 L56.89,418.79 L59.47,419.12 L62.06,419.47 L64.64,419.83 L67.23,420.20 L69.81,420.59 L72.40,421.00 L74.98,421.42 L77.57,421.86 L80.15,422.32 L82.73,422.80 L85.32,423.30 L87.90,423.82 L90.49,424.36 L93.07,424.92 L95.66,425.50 L98.24,426.10 L100.83,426.73 L103.41,427.39 L106.00,428.06 L108.58,428.77 L111.17,429.49 L113.75,430.25 L116.34,431.03 L118.92,431.84 L121.51,432.68 L124.09,433.55 L126.67,434.45 L129.26,435.38 L131.84,436.33 L134.43,437.32 L137.01,438.35 L139.60,439.40 L142.18,440.48 L144.77,441.60 L147.35,442.75 L149.94,443.94 L152.52,445.15 L155.11,446.40 L157.69,447.68 L160.28,449.00 L162.86,450.35 L165.45,451.73 L168.03,453.14 L170.61,454.58 L173.20,456.06 L175.78,457.56 L178.37,459.10 L180.95,460.66 L183.54,462.25 L186.12,463.87 L188.71,465.51 L191.29,467.18 L193.88,468.87 L196.46,470.59 L199.05,472.32 L201.63,474.07 L204.22,475.84 L206.80,477.63 L209.39,479.43 L211.97,481.24 L214.55,483.06 L217.14,484.89 L219.72,486.73 L222.31,488.57 L224.89,490.41 L227.48,492.25 L230.06,494.09 L232.65,495.93 L235.23,497.76 L237.82,499.59 L240.40,501.40 L242.99,503.21 L245.57,505.00 L248.16,506.77 L250.74,508.53 L253.33,510.27 L255.91,512.00 L258.49,513.70 L261.08,515.37 L263.66,517.03 L266.25,518.65 L268.83,520.25 L271.42,521.83 L274.00,523.37 L276.59,524.89 L279.17,526.38 L281.76,527.83" stroke="#bf857a" stroke-width="1.7" fill="none" stroke-linejoin="round" stroke-linecap="round" />
<path d="M51.72,422.68 L54.30,423.12 L56.89,423.57 L59.47,424.05 L62.06,424.54 L64.64,425.05 L67.23,425.57 L69.81,426.12 L72.40,426.68 L74.98,427.26 L77.57,427.87 L80.15,428.49 L82.73,429.13 L85.32,429.80 L87.90,430.49 L90.49,431.19 L93.07,431.93 L95.66,432.68 L98.24,433.46 L100.83,434.26 L103.41,435.09 L106.00,435.94 L108.58,436.81 L111.17,437.71 L113.75,438.64 L116.34,439.59 L118.92,440.57 L121.51,441.57 L124.09,442.60 L126.67,443.66 L129.26,444.74 L131.84,445.85 L134.43,446.99 L137.01,448.15 L139.60,449.34 L142.18,450.56 L144.77,451.80 L147.35,453.06 L149.94,454.36 L152.52,455.68 L155.11,457.02 L157.69,458.38 L160.28,459.77 L162.86,461.19 L165.45,462.62 L168.03,464.08 L170.61,465.55 L173.20,467.05 L175.78,468.57 L178.37,470.10 L180.95,471.65 L183.54,473.22 L186.12,474.80 L188.71,476.39 L191.29,477.99 L193.88,479.61 L196.46,481.24 L199.05,482.87 L201.63,484.51 L204.22,486.16 L206.80,487.81 L209.39,489.46 L211.97,491.12 L214.55,492.77 L217.14,494.42 L219.72,496.07 L222.31,497.71 L224.89,499.35 L227.48,500.98 L230.06,502.61 L232.65,504.22 L235.23,505.82 L237.82,507.41 L240.40,508.98 L242.99,510.54 L245.57,512.08 L248.16,513.61 L250.74,515.11 L253.33,516.60 L255.91,518.07 L258.49,519.52 L261.08,520.94 L263.66,522.34 L266.25,523.72 L268.83,525.08 L271.42,526.41 L274.00,527.72 L276.59,529.00 L279.17,530.26 L281.76,531.49" stroke="#4a2616" stroke-width="1.7" fill="none" stroke-linejoin="round" stroke-linecap="round" />
<path d="M51.72,418.88 L54.30,419.38 L56.89,419.90 L59.47,420.46 L62.06,421.05 L64.64,421.68 L67.23,422.35 L69.81,423.06 L72.40,423.81 L74.98,424.60 L77.57,425.44 L80.15,426.33 L82.73,427.27 L85.32,428.26 L87.90,429.31 L90.49,430.41 L93.07,431.57 L95.66,432.80 L98.24,434.08 L100.83,435.43 L103.41,436.84 L106.00,438.32 L108.58,439.87 L111.17,441.49 L113.75,443.18 L116.34,444.94 L118.92,446.77 L121.51,448.67 L124.09,450.64 L126.67,452.67 L129.26,454.78 L131.84,456.95 L134.43,459.19 L137.01,461.48 L139.60,463.84 L142.18,466.25 L144.77,468.71 L147.35,471.22 L149.94,473.77 L152.52,476.36 L155.11,478.98 L157.69,481.62 L160.28,484.29 L162.86,486.97 L165.45,489.66 L168.03,492.36 L170.61,495.05 L173.20,497.73 L175.78,500.39 L178.37,503.03 L180.95,505.65 L183.54,508.23 L186.12,510.77 L188.71,513.27 L191.29,515.72 L193.88,518.12 L196.46,520.47 L199.05,522.75 L201.63,524.97 L204.22,527.13 L206.80,529.23 L209.39,531.25 L211.97,533.21 L214.55,535.09 L217.14,536.91 L219.72,538.65 L222.31,540.33 L224.89,541.93 L227.48,543.47 L230.06,544.94 L232.65,546.34 L235.23,547.67 L237.82,548.95 L240.40,550.16 L242.99,551.31 L245.57,552.40 L248.16,553.43 L250.74,554.42 L253.33,555.35 L255.91,556.23 L258.49,557.06 L261.08,557.84 L263.66,558.58 L266.25,559.28 L268.83,559.94 L271.42,560.56 L274.00,561.15 L276.59,561.70 L279.17,562.22 L281.76,562.71" stroke="#b3303e" stroke-width="1.7" fill="none" stroke-linejoin="round" stroke-linecap="round" />
<path d="M51.72,414.92 L54.30,415.32 L56.89,415.77 L59.47,416.26 L62.06,416.81 L64.64,417.43 L67.23,418.11 L69.81,418.86 L72.40,419.70 L74.98,420.63 L77.57,421.65 L80.15,422.78 L82.73,424.03 L85.32,425.40 L87.90,426.91 L90.49,428.55 L93.07,430.35 L95.66,432.32 L98.24,434.45 L100.83,436.76 L103.41,439.26 L106.00,441.94 L108.58,444.82 L111.17,447.89 L113.75,451.16 L116.34,454.61 L118.92,458.24 L121.51,462.05 L124.09,466.01 L126.67,470.11 L129.26,474.33 L131.84,478.65 L134.43,483.04 L137.01,487.48 L139.60,491.93 L142.18,496.37 L144.77,500.77 L147.35,505.11 L149.94,509.35 L152.52,513.48 L155.11,517.46 L157.69,521.30 L160.28,524.97 L162.86,528.45 L165.45,531.75 L168.03,534.86 L170.61,537.78 L173.20,540.50 L175.78,543.03 L178.37,545.37 L180.95,547.54 L183.54,549.53 L186.12,551.36 L188.71,553.03 L191.29,554.56 L193.88,555.96 L196.46,557.23 L199.05,558.38 L201.63,559.42 L204.22,560.37 L206.80,561.22 L209.39,561.99 L211.97,562.68 L214.55,563.31 L217.14,563.87 L219.72,564.38 L222.31,564.83 L224.89,565.24 L227.48,565.61 L230.06,565.94 L232.65,566.23 L235.23,566.50 L237.82,566.73 L240.40,566.94 L242.99,567.13 L245.57,567.30 L248.16,567.45 L250.74,567.59 L253.33,567.71 L255.91,567.82 L258.49,567.92 L261.08,568.00 L263.66,568.08 L266.25,568.15 L268.83,568.21 L271.42,568.27 L274.00,568.32 L276.59,568.36 L279.17,568.40 L281.76,568.44" stroke="#1f2d6b" stroke-width="1.7" fill="none" stroke-linejoin="round" stroke-linecap="round" />
<path d="M51.72,413.15 L54.30,413.37 L56.89,413.62 L59.47,413.89 L62.06,414.21 L64.64,414.56 L67.23,414.96 L69.81,415.41 L72.40,415.92 L74.98,416.49 L77.57,417.13 L80.15,417.85 L82.73,418.66 L85.32,419.57 L87.90,420.58 L90.49,421.71 L93.07,422.98 L95.66,424.38 L98.24,425.94 L100.83,427.67 L103.41,429.58 L106.00,431.68 L108.58,433.99 L111.17,436.52 L113.75,439.26 L116.34,442.24 L118.92,445.46 L121.51,448.91 L124.09,452.60 L126.67,456.51 L129.26,460.64 L131.84,464.97 L134.43,469.47 L137.01,474.12 L139.60,478.90 L142.18,483.76 L144.77,488.66 L147.35,493.58 L149.94,498.48 L152.52,503.31 L155.11,508.03 L157.69,512.63 L160.28,517.06 L162.86,521.31 L165.45,525.35 L168.03,529.17 L170.61,532.77 L173.20,536.12 L175.78,539.24 L178.37,542.12 L180.95,544.78 L183.54,547.21 L186.12,549.43 L188.71,551.46 L191.29,553.29 L193.88,554.95 L196.46,556.44 L199.05,557.79 L201.63,559.00 L204.22,560.08 L206.80,561.05 L209.39,561.91 L211.97,562.69 L214.55,563.37 L217.14,563.99 L219.72,564.53 L222.31,565.01 L224.89,565.44 L227.48,565.82 L230.06,566.16 L232.65,566.46 L235.23,566.72 L237.82,566.95 L240.40,567.16 L242.99,567.35 L245.57,567.51 L248.16,567.65 L250.74,567.78 L253.33,567.89 L255.91,567.99 L258.49,568.07 L261.08,568.15 L263.66,568.22 L266.25,568.28 L268.83,568.33 L271.42,568.38 L274.00,568.42 L276.59,568.46 L279.17,568.49 L281.76,568.52" stroke="#7aa7d3" stroke-width="1.7" fill="none" stroke-linejoin="round" stroke-linecap="round" />
<path d="M51.72,415.31 L54.30,415.65 L56.89,416.02 L59.47,416.42 L62.06,416.85 L64.64,417.32 L67.23,417.82 L69.81,418.37 L72.40,418.97 L74.98,419.61 L77.57,420.31 L80.15,421.06 L82.73,421.88 L85.32,422.75 L87.90,423.70 L90.49,424.71 L93.07,425.81 L95.66,426.98 L98.24,428.24 L100.83,429.59 L103.41,431.03 L106.00,432.57 L108.58,434.21 L111.17,435.95 L113.75,437.81 L116.34,439.77 L118.92,441.85 L121.51,444.04 L124.09,446.35 L126.67,448.77 L129.26,451.30 L131.84,453.95 L134.43,456.70 L137.01,459.56 L139.60,462.52 L142.18,465.57 L144.77,468.70 L147.35,471.91 L149.94,475.19 L152.52,478.52 L155.11,481.90 L157.69,485.30 L160.28,488.73 L162.86,492.16 L165.45,495.59 L168.03,498.99 L170.61,502.37 L173.20,505.70 L175.78,508.97 L178.37,512.18 L180.95,515.31 L183.54,518.35 L186.12,521.30 L188.71,524.16 L191.29,526.91 L193.88,529.55 L196.46,532.07 L199.05,534.49 L201.63,536.79 L204.22,538.97 L206.80,541.04 L209.39,543.00 L211.97,544.85 L214.55,546.59 L217.14,548.23 L219.72,549.76 L222.31,551.20 L224.89,552.54 L227.48,553.79 L230.06,554.96 L232.65,556.05 L235.23,557.06 L237.82,558.00 L240.40,558.88 L242.99,559.69 L245.57,560.44 L248.16,561.13 L250.74,561.77 L253.33,562.36 L255.91,562.91 L258.49,563.42 L261.08,563.88 L263.66,564.31 L266.25,564.71 L268.83,565.08 L271.42,565.41 L274.00,565.72 L276.59,566.01 L279.17,566.27 L281.76,566.51" stroke="#58a748" stroke-width="1.7" fill="none" stroke-linejoin="round" stroke-linecap="round" />
<path d="M51.72,410.34 L54.30,410.37 L56.89,410.39 L59.47,410.42 L62.06,410.46 L64.64,410.51 L67.23,410.56 L69.81,410.62 L72.40,410.70 L74.98,410.79 L77.57,410.90 L80.15,411.03 L82.73,411.18 L85.32,411.37 L87.90,411.59 L90.49,411.85 L93.07,412.17 L95.66,412.54 L98.24,412.99 L100.83,413.52 L103.41,414.14 L106.00,414.89 L108.58,415.77 L111.17,416.80 L113.75,418.03 L116.34,419.47 L118.92,421.15 L121.51,423.12 L124.09,425.40 L126.67,428.04 L129.26,431.06 L131.84,434.52 L134.43,438.43 L137.01,442.81 L139.60,447.69 L142.18,453.04 L144.77,458.85 L147.35,465.07 L149.94,471.64 L152.52,478.48 L155.11,485.49 L157.69,492.56 L160.28,499.58 L162.86,506.44 L165.45,513.03 L168.03,519.29 L170.61,525.14 L173.20,530.53 L175.78,535.44 L178.37,539.87 L180.95,543.82 L183.54,547.31 L186.12,550.37 L188.71,553.04 L191.29,555.35 L193.88,557.34 L196.46,559.05 L199.05,560.51 L201.63,561.75 L204.22,562.80 L206.80,563.69 L209.39,564.45 L211.97,565.08 L214.55,565.62 L217.14,566.07 L219.72,566.45 L222.31,566.77 L224.89,567.04 L227.48,567.26 L230.06,567.45 L232.65,567.61 L235.23,567.74 L237.82,567.85 L240.40,567.94 L242.99,568.02 L245.57,568.08 L248.16,568.14 L250.74,568.18 L253.33,568.22 L255.91,568.25 L258.49,568.28 L261.08,568.30 L263.66,568.32 L266.25,568.34 L268.83,568.35 L271.42,568.36 L274.00,568.37 L276.59,568.38 L279.17,568.38 L281.76,568.39" stroke="#2e5843" stroke-width="1.7" fill="none" stroke-linejoin="round" stroke-linecap="round" />
<circle cx="106.08" cy="490.75" r="2.6" fill="#fff" stroke="#e3c58f" stroke-width="1.1"/>
<circle cx="100.08" cy="490.75" r="2.6" fill="#fff" stroke="#8d5b2c" stroke-width="1.1"/>
<circle cx="89.99" cy="490.75" r="2.6" fill="#fff" stroke="#cf9a5c" stroke-width="1.1"/>
<circle cx="87.09" cy="490.75" r="2.6" fill="#fff" stroke="#dea233" stroke-width="1.1"/>
<circle cx="278.76" cy="490.75" r="2.6" fill="#fff" stroke="#e6cfcf" stroke-width="1.1"/>
<circle cx="249.82" cy="490.75" r="2.6" fill="#fff" stroke="#d9bdb8" stroke-width="1.1"/>
<circle cx="230.86" cy="490.75" r="2.6" fill="#fff" stroke="#a39a8e" stroke-width="1.1"/>
<circle cx="225.87" cy="490.75" r="2.6" fill="#fff" stroke="#d6a79f" stroke-width="1.1"/>
<circle cx="225.37" cy="490.75" r="2.6" fill="#fff" stroke="#bf857a" stroke-width="1.1"/>
<circle cx="211.40" cy="490.75" r="2.6" fill="#fff" stroke="#4a2616" stroke-width="1.1"/>
<circle cx="166.49" cy="490.75" r="2.6" fill="#fff" stroke="#b3303e" stroke-width="1.1"/>
<circle cx="138.91" cy="490.75" r="2.6" fill="#fff" stroke="#1f2d6b" stroke-width="1.1"/>
<circle cx="145.86" cy="490.75" r="2.6" fill="#fff" stroke="#7aa7d3" stroke-width="1.1"/>
<circle cx="161.80" cy="490.75" r="2.6" fill="#fff" stroke="#58a748" stroke-width="1.1"/>
<circle cx="157.03" cy="490.75" r="2.6" fill="#fff" stroke="#2e5843" stroke-width="1.1"/>
<path d="M45.4,404.6 L45.4,577.8 L285.6,577.8" fill="none" stroke="#111" stroke-width="1.6"/>
<line x1="42.1" y1="570" x2="45.4" y2="570" stroke="#111" stroke-width="1.1" />
<text x="0" y="0" font-size="9" text-anchor="end" font-weight="normal" fill="#222" stroke="#222" stroke-width="0.25" transform="translate(39.4 573.2) scale(1 1.06)" >0</text>
<line x1="42.1" y1="530.375" x2="45.4" y2="530.375" stroke="#111" stroke-width="1.1" />
<text x="0" y="0" font-size="9" text-anchor="end" font-weight="normal" fill="#222" stroke="#222" stroke-width="0.25" transform="translate(39.4 533.575) scale(1 1.06)" >25</text>
<line x1="42.1" y1="490.75" x2="45.4" y2="490.75" stroke="#111" stroke-width="1.1" />
<text x="0" y="0" font-size="9" text-anchor="end" font-weight="normal" fill="#222" stroke="#222" stroke-width="0.25" transform="translate(39.4 493.95) scale(1 1.06)" >50</text>
<line x1="42.1" y1="451.125" x2="45.4" y2="451.125" stroke="#111" stroke-width="1.1" />
<text x="0" y="0" font-size="9" text-anchor="end" font-weight="normal" fill="#222" stroke="#222" stroke-width="0.25" transform="translate(39.4 454.325) scale(1 1.06)" >75</text>
<line x1="42.1" y1="411.5" x2="45.4" y2="411.5" stroke="#111" stroke-width="1.1" />
<text x="0" y="0" font-size="9" text-anchor="end" font-weight="normal" fill="#222" stroke="#222" stroke-width="0.25" transform="translate(39.4 414.7) scale(1 1.06)" >100</text>
<line x1="60.7" y1="577.8" x2="60.7" y2="581.2" stroke="#111" stroke-width="1.1" />
<text x="0" y="0" font-size="9" text-anchor="middle" font-weight="normal" fill="#222" stroke="#222" stroke-width="0.25" transform="translate(60.7 592) scale(1 1.06)" >-3</text>
<line x1="110.6" y1="577.8" x2="110.6" y2="581.2" stroke="#111" stroke-width="1.1" />
<text x="0" y="0" font-size="9" text-anchor="middle" font-weight="normal" fill="#222" stroke="#222" stroke-width="0.25" transform="translate(110.6 592) scale(1 1.06)" >-2</text>
<line x1="160.5" y1="577.8" x2="160.5" y2="581.2" stroke="#111" stroke-width="1.1" />
<text x="0" y="0" font-size="9" text-anchor="middle" font-weight="normal" fill="#222" stroke="#222" stroke-width="0.25" transform="translate(160.5 592) scale(1 1.06)" >-1</text>
<line x1="210.4" y1="577.8" x2="210.4" y2="581.2" stroke="#111" stroke-width="1.1" />
<text x="0" y="0" font-size="9" text-anchor="middle" font-weight="normal" fill="#222" stroke="#222" stroke-width="0.25" transform="translate(210.4 592) scale(1 1.06)" >0</text>
<line x1="260.3" y1="577.8" x2="260.3" y2="581.2" stroke="#111" stroke-width="1.1" />
<text x="0" y="0" font-size="9" text-anchor="middle" font-weight="normal" fill="#222" stroke="#222" stroke-width="0.25" transform="translate(260.3 592) scale(1 1.06)" >1</text>
<text x="0" y="0" font-size="9.5" text-anchor="middle" fill="#222" stroke="#222" stroke-width="0.2" transform="translate(165.3 605.6) scale(1 1.06)">log<tspan font-size="6.8" dy="2.6">10</tspan><tspan dy="-2.6"> [µM]</tspan></text>
<text x="0" y="0" font-size="9.4" text-anchor="middle" font-weight="normal" fill="#222" stroke="#222" stroke-width="0.25" transform="translate(18.3 491) rotate(-90) scale(1 1.06)" >Relative viability [%]</text>
<text x="0" y="0" font-size="10.9" text-anchor="start" font-weight="bold" fill="#111" stroke="#111" stroke-width="0.25" transform="translate(43.4 394.6)" >Ex Vivo Venetoclax Response</text>
<rect x="55.1" y="615.4" width="3.8" height="3.8" fill="#e6cfcf" />
<text x="0" y="0" font-size="7.9" text-anchor="start" font-weight="normal" fill="#9a2a4c" stroke="#9a2a4c" stroke-width="0.25" transform="translate(61.2 619.3) scale(1 1.06)" >AML 1</text>
<rect x="55.1" y="624.8" width="3.8" height="3.8" fill="#d6ada6" />
<text x="0" y="0" font-size="7.9" text-anchor="start" font-weight="normal" fill="#9a2a4c" stroke="#9a2a4c" stroke-width="0.25" transform="translate(61.2 628.7) scale(1 1.06)" >AML 2</text>
<rect x="55.1" y="634.2" width="3.8" height="3.8" fill="#b98a86" />
<text x="0" y="0" font-size="7.9" text-anchor="start" font-weight="normal" fill="#1a1a1a" stroke="#1a1a1a" stroke-width="0.25" transform="translate(61.2 638.1) scale(1 1.06)" >AML 3</text>
<rect x="55.1" y="643.6" width="3.8" height="3.8" fill="#b3303e" />
<text x="0" y="0" font-size="7.9" text-anchor="start" font-weight="normal" fill="#1a1a1a" stroke="#1a1a1a" stroke-width="0.25" transform="translate(61.2 647.5) scale(1 1.06)" >AML 4</text>
<rect x="109" y="615.4" width="3.8" height="3.8" fill="#a39a8e" />
<text x="0" y="0" font-size="7.9" text-anchor="start" font-weight="normal" fill="#1a1a1a" stroke="#1a1a1a" stroke-width="0.25" transform="translate(115.7 619.3) scale(1 1.06)" >AML 5</text>
<rect x="109" y="624.8" width="3.8" height="3.8" fill="#3c2417" />
<text x="0" y="0" font-size="7.9" text-anchor="start" font-weight="normal" fill="#1a1a1a" stroke="#1a1a1a" stroke-width="0.25" transform="translate(115.7 628.7) scale(1 1.06)" >AML 6</text>
<rect x="109" y="634.2" width="3.8" height="3.8" fill="#d9c6c4" />
<text x="0" y="0" font-size="7.9" text-anchor="start" font-weight="normal" fill="#1a1a1a" stroke="#1a1a1a" stroke-width="0.25" transform="translate(115.7 638.1) scale(1 1.06)" >AML 7</text>
<rect x="165.2" y="615.4" width="3.8" height="3.8" fill="#dcbc92" />
<text x="0" y="0" font-size="7.9" text-anchor="start" font-weight="normal" fill="#1a1a1a" stroke="#1a1a1a" stroke-width="0.25" transform="translate(171.1 619.3) scale(1 1.06)" >CLL 1</text>
<rect x="165.2" y="624.8" width="3.8" height="3.8" fill="#d9a02f" />
<text x="0" y="0" font-size="7.9" text-anchor="start" font-weight="normal" fill="#9a2a4c" stroke="#9a2a4c" stroke-width="0.25" transform="translate(171.1 628.7) scale(1 1.06)" >CLL 2</text>
<rect x="165.2" y="634.2" width="3.8" height="3.8" fill="#c99a68" />
<text x="0" y="0" font-size="7.9" text-anchor="start" font-weight="normal" fill="#9a2a4c" stroke="#9a2a4c" stroke-width="0.25" transform="translate(171.1 638.1) scale(1 1.06)" >CLL 3</text>
<rect x="165.2" y="643.6" width="3.8" height="3.8" fill="#8a6038" />
<text x="0" y="0" font-size="7.9" text-anchor="start" font-weight="normal" fill="#1a1a1a" stroke="#1a1a1a" stroke-width="0.25" transform="translate(171.1 647.5) scale(1 1.06)" >CLL 4</text>
<rect x="217.2" y="615.4" width="3.8" height="3.8" fill="#88a9cb" />
<text x="0" y="0" font-size="7.9" text-anchor="start" font-weight="normal" fill="#9a2a4c" stroke="#9a2a4c" stroke-width="0.25" transform="translate(222.9 619.3) scale(1 1.06)" >T-PLL P1 Feb 15</text>
<rect x="217.2" y="624.8" width="3.8" height="3.8" fill="#1c2b5c" />
<text x="0" y="0" font-size="7.9" text-anchor="start" font-weight="normal" fill="#9a2a4c" stroke="#9a2a4c" stroke-width="0.25" transform="translate(222.9 628.7) scale(1 1.06)" >T-PLL P1 Mar 29</text>
<rect x="217.2" y="634.2" width="3.8" height="3.8" fill="#5c9b4a" />
<text x="0" y="0" font-size="7.9" text-anchor="start" font-weight="normal" fill="#9a2a4c" stroke="#9a2a4c" stroke-width="0.25" transform="translate(222.9 638.1) scale(1 1.06)" >T-PLL P2 Jun 17</text>
<rect x="217.2" y="643.6" width="3.8" height="3.8" fill="#3b5249" />
<text x="0" y="0" font-size="7.9" text-anchor="start" font-weight="normal" fill="#9a2a4c" stroke="#9a2a4c" stroke-width="0.25" transform="translate(222.9 647.5) scale(1 1.06)" >T-PLL P2 Sep 15</text>
<defs><filter id="bl" x="-30%" y="-100%" width="160%" height="300%"><feGaussianBlur stdDeviation="0.9 0.7"/></filter><filter id="bl2" x="-30%" y="-100%" width="160%" height="300%"><feGaussianBlur stdDeviation="1.2 1.0"/></filter></defs>
<text x="0" y="0" font-size="7.7" text-anchor="start" font-weight="normal" fill="#222" stroke="#222" stroke-width="0.1" transform="translate(354 440.2) rotate(-90)" >CLL 2</text>
<text x="0" y="0" font-size="7.7" text-anchor="start" font-weight="normal" fill="#222" stroke="#222" stroke-width="0.1" transform="translate(368.1 440.2) rotate(-90)" >CLL 3</text>
<text x="0" y="0" font-size="7.7" text-anchor="start" font-weight="normal" fill="#222" stroke="#222" stroke-width="0.1" transform="translate(383.6 440.2) rotate(-90)" >T-PLL P1 Feb 15</text>
<text x="0" y="0" font-size="7.7" text-anchor="start" font-weight="normal" fill="#222" stroke="#222" stroke-width="0.1" transform="translate(397.8 440.2) rotate(-90)" >T-PLL P1 Mar 29</text>
<text x="0" y="0" font-size="7.7" text-anchor="start" font-weight="normal" fill="#222" stroke="#222" stroke-width="0.1" transform="translate(413.1 440.2) rotate(-90)" >T-PLL P2 Jun 17</text>
<text x="0" y="0" font-size="7.7" text-anchor="start" font-weight="normal" fill="#222" stroke="#222" stroke-width="0.1" transform="translate(428.7 440.2) rotate(-90)" >T-PLL P2 Sep 15</text>
<text x="0" y="0" font-size="7.7" text-anchor="start" font-weight="normal" fill="#222" stroke="#222" stroke-width="0.1" transform="translate(444.1 440.2) rotate(-90)" >AML 1</text>
<text x="0" y="0" font-size="7.7" text-anchor="start" font-weight="normal" fill="#222" stroke="#222" stroke-width="0.1" transform="translate(458.9 440.2) rotate(-90)" >AML 2</text>
<rect x="340.8" y="447.4" width="131.4" height="17.2" fill="#999999" />
<rect x="345.35" y="456.90" width="12.50" height="3.00" rx="1.50" fill="#3a3a3a" opacity="0.85" filter="url(#bl)"/>
<rect x="360.55" y="456.50" width="12.00" height="2.20" rx="1.10" fill="#707070" opacity="0.55" filter="url(#bl)"/>
<rect x="376.00" y="456.00" width="11.00" height="2.40" rx="1.20" fill="#5a5a5a" opacity="0.6" filter="url(#bl)"/>
<rect x="391.95" y="456.00" width="9.00" height="2.00" rx="1.00" fill="#707070" opacity="0.4" filter="url(#bl)"/>
<rect x="405.15" y="456.20" width="12.50" height="2.80" rx="1.40" fill="#6a6a6a" opacity="0.6" filter="url(#bl)"/>
<rect x="420.60" y="455.10" width="11.50" height="3.00" rx="1.50" fill="#4a4a4a" opacity="0.75" filter="url(#bl)"/>
<rect x="438.80" y="455.60" width="5.00" height="2.00" rx="1.00" fill="#707070" opacity="0.4" filter="url(#bl)"/>
<rect x="450.50" y="454.60" width="11.50" height="2.80" rx="1.40" fill="#4a4a4a" opacity="0.7" filter="url(#bl)"/>
<rect x="340.8" y="447.4" width="131.4" height="17.2" fill="none" stroke="#111" stroke-width="1.6"/>
<text x="0" y="0" font-size="8.5" text-anchor="start" font-weight="bold" fill="#111" stroke="#111" stroke-width="0.25" transform="translate(476.4 459.3) scale(1 1.06)" >MCL-1</text>
<rect x="340.8" y="472.4" width="131.4" height="14.4" fill="#b5b5b5" />
<rect x="345.10" y="478.70" width="13.00" height="3.20" rx="1.60" fill="#0a0a0a" opacity="1" filter="url(#bl)"/>
<rect x="360.55" y="479.10" width="12.00" height="1.80" rx="0.90" fill="#5a5a5a" opacity="0.7" filter="url(#bl)"/>
<rect x="376.00" y="479.10" width="11.00" height="1.80" rx="0.90" fill="#6a6a6a" opacity="0.6" filter="url(#bl)"/>
<rect x="390.20" y="478.75" width="12.50" height="2.30" rx="1.15" fill="#3a3a3a" opacity="0.75" filter="url(#bl)"/>
<rect x="405.40" y="479.15" width="12.00" height="1.70" rx="0.85" fill="#6a6a6a" opacity="0.6" filter="url(#bl)"/>
<rect x="419.85" y="478.00" width="13.00" height="3.60" rx="1.80" fill="#050505" opacity="1" filter="url(#bl)"/>
<rect x="340.8" y="472.4" width="131.4" height="14.4" fill="none" stroke="#111" stroke-width="1.6"/>
<text x="0" y="0" font-size="8.5" text-anchor="start" font-weight="bold" fill="#111" stroke="#111" stroke-width="0.25" transform="translate(476.4 483.5) scale(1 1.06)" >BCL-2</text>
<rect x="340.8" y="493.3" width="131.4" height="14.3" fill="#aaaaaa" />
<rect x="345.35" y="500.20" width="12.50" height="3.60" rx="1.80" fill="#505050" opacity="0.8" filter="url(#bl)"/>
<rect x="361.05" y="500.70" width="11.00" height="2.20" rx="1.10" fill="#8a8a8a" opacity="0.5" filter="url(#bl)"/>
<rect x="375.25" y="499.50" width="12.50" height="3.40" rx="1.70" fill="#3a3a3a" opacity="0.85" filter="url(#bl)"/>
<rect x="389.70" y="498.20" width="13.50" height="4.40" rx="2.20" fill="#0c0c0c" opacity="1" filter="url(#bl)"/>
<rect x="404.90" y="499.40" width="13.00" height="3.60" rx="1.80" fill="#2a2a2a" opacity="0.9" filter="url(#bl)"/>
<rect x="419.60" y="498.30" width="13.50" height="4.60" rx="2.30" fill="#080808" opacity="1" filter="url(#bl)"/>
<rect x="434.80" y="500.20" width="13.00" height="2.40" rx="1.20" fill="#8a8a8a" opacity="0.5" filter="url(#bl)"/>
<rect x="450.00" y="499.70" width="12.50" height="3.40" rx="1.70" fill="#3a3a3a" opacity="0.85" filter="url(#bl)"/>
<rect x="340.8" y="493.3" width="131.4" height="14.3" fill="none" stroke="#111" stroke-width="1.6"/>
<text x="0" y="0" font-size="8.5" text-anchor="start" font-weight="bold" fill="#111" stroke="#111" stroke-width="0.25" transform="translate(476.4 503.6) scale(1 1.06)" >BCL-XL</text>
<line x1="336.6" y1="464.4" x2="340.8" y2="464.4" stroke="#111" stroke-width="1.1" />
<text x="0" y="0" font-size="8.5" text-anchor="end" font-weight="normal" fill="#222" stroke="#222" stroke-width="0.25" transform="translate(335 467.5) scale(1 1.06)" >36</text>
<line x1="336.6" y1="480.2" x2="340.8" y2="480.2" stroke="#111" stroke-width="1.1" />
<text x="0" y="0" font-size="8.5" text-anchor="end" font-weight="normal" fill="#222" stroke="#222" stroke-width="0.25" transform="translate(335 483.3) scale(1 1.06)" >28</text>
<line x1="336.6" y1="507.2" x2="340.8" y2="507.2" stroke="#111" stroke-width="1.1" />
<text x="0" y="0" font-size="8.5" text-anchor="end" font-weight="normal" fill="#222" stroke="#222" stroke-width="0.25" transform="translate(335 510.3) scale(1 1.06)" >28</text>
<rect x="340.8" y="514" width="131.4" height="121.8" fill="#f3ebf3" />
<rect x="345.6" y="516" width="12" height="117.8" fill="#ecdbe8" opacity="0.35"/>
<rect x="360.55" y="516" width="12" height="117.8" fill="#ecdbe8" opacity="0.35"/>
<rect x="375.5" y="516" width="12" height="117.8" fill="#ecdbe8" opacity="0.35"/>
<rect x="390.45" y="516" width="12" height="117.8" fill="#ecdbe8" opacity="0.35"/>
<rect x="405.4" y="516" width="12" height="117.8" fill="#ecdbe8" opacity="0.35"/>
<rect x="420.35" y="516" width="12" height="117.8" fill="#ecdbe8" opacity="0.35"/>
<rect x="435.3" y="516" width="12" height="117.8" fill="#ecdbe8" opacity="0.35"/>
<rect x="450.25" y="516" width="12" height="117.8" fill="#ecdbe8" opacity="0.35"/>
<rect x="345.85" y="554.0" width="11.5" height="1.7" fill="#b29aa8" opacity="0.85" filter="url(#bl)"/>
<rect x="360.80" y="554.0" width="11.5" height="1.7" fill="#b29aa8" opacity="0.75" filter="url(#bl)"/>
<rect x="375.75" y="554.0" width="11.5" height="1.7" fill="#b29aa8" opacity="0.9" filter="url(#bl)"/>
<rect x="390.70" y="554.0" width="11.5" height="1.7" fill="#b29aa8" opacity="0.45" filter="url(#bl)"/>
<rect x="405.65" y="554.0" width="11.5" height="1.7" fill="#b29aa8" opacity="0.65" filter="url(#bl)"/>
<rect x="420.60" y="554.0" width="11.5" height="1.7" fill="#b29aa8" opacity="0.65" filter="url(#bl)"/>
<rect x="435.55" y="554.0" width="11.5" height="1.7" fill="#b29aa8" opacity="0.5" filter="url(#bl)"/>
<rect x="450.50" y="554.0" width="11.5" height="1.7" fill="#b29aa8" opacity="0.7" filter="url(#bl)"/>
<rect x="390.95" y="568" width="11" height="26" fill="#e9d0e0" opacity="0.65" filter="url(#bl2)"/>
<rect x="391.45" y="572.3" width="10" height="1.4" fill="#d2b4c8" opacity="0.6" filter="url(#bl)"/>
<rect x="406.90" y="615.6" width="9" height="2.0" fill="#dcbccc" opacity="0.75" filter="url(#bl)"/>
<rect x="420.85" y="615.3" width="11" height="3.0" fill="#d4aec2" opacity="0.8" filter="url(#bl)"/>
<rect x="436.80" y="621.5" width="9" height="1.5" fill="#e0c8d6" opacity="0.6" filter="url(#bl)"/>
<rect x="340.8" y="514" width="131.4" height="121.8" fill="none" stroke="#111" stroke-width="1.6"/>
<line x1="336.6" y1="528.8" x2="340.8" y2="528.8" stroke="#111" stroke-width="1" />
<text x="0" y="0" font-size="7.3" text-anchor="end" font-weight="normal" fill="#222" stroke="#222" stroke-width="0.25" transform="translate(335 531.4) scale(1 1.06)" >95</text>
<line x1="336.6" y1="535" x2="340.8" y2="535" stroke="#111" stroke-width="1" />
<text x="0" y="0" font-size="7.3" text-anchor="end" font-weight="normal" fill="#222" stroke="#222" stroke-width="0.25" transform="translate(335 537.6) scale(1 1.06)" >72</text>
<line x1="336.6" y1="546.2" x2="340.8" y2="546.2" stroke="#111" stroke-width="1" />
<text x="0" y="0" font-size="7.3" text-anchor="end" font-weight="normal" fill="#222" stroke="#222" stroke-width="0.25" transform="translate(335 548.8) scale(1 1.06)" >55</text>
<line x1="336.6" y1="566.5" x2="340.8" y2="566.5" stroke="#111" stroke-width="1" />
<text x="0" y="0" font-size="7.3" text-anchor="end" font-weight="normal" fill="#222" stroke="#222" stroke-width="0.25" transform="translate(335 569.1) scale(1 1.06)" >36</text>
<line x1="336.6" y1="581.2" x2="340.8" y2="581.2" stroke="#111" stroke-width="1" />
<text x="0" y="0" font-size="7.3" text-anchor="end" font-weight="normal" fill="#222" stroke="#222" stroke-width="0.25" transform="translate(335 583.8) scale(1 1.06)" >28</text>
<line x1="336.6" y1="616.5" x2="340.8" y2="616.5" stroke="#111" stroke-width="1" />
<text x="0" y="0" font-size="7.3" text-anchor="end" font-weight="normal" fill="#222" stroke="#222" stroke-width="0.25" transform="translate(335 619.1) scale(1 1.06)" >17</text>
<text x="0" y="0" font-size="8.5" text-anchor="start" font-weight="bold" fill="#111" stroke="#111" stroke-width="0.25" transform="translate(476.8 587.6) scale(1 1.06)" >Ponceau</text>
</g>
</svg>
</body></html>
